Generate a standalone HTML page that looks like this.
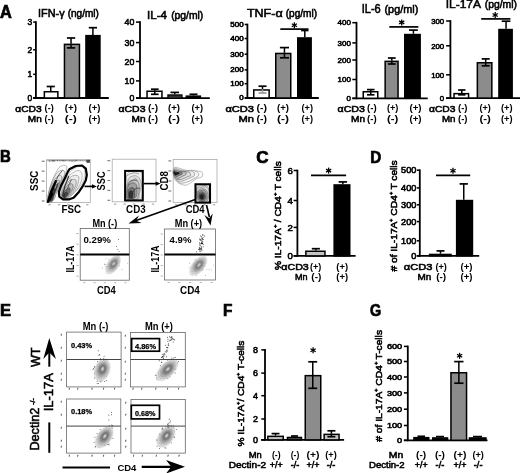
<!DOCTYPE html>
<html><head><meta charset="utf-8"><title>Figure</title>
<style>
html,body{margin:0;padding:0;background:#fff;}
body{width:520px;height:473px;overflow:hidden;}
svg{display:block;will-change:transform;font-family:"Liberation Sans",sans-serif;}
</style></head>
<body>
<svg width="520" height="473" viewBox="0 0 520 473">
<defs><filter id="bl" x="-20%" y="-20%" width="140%" height="140%"><feGaussianBlur stdDeviation="0.45"/></filter></defs>
<rect width="520" height="473" fill="#fff"/>
<text x="0.00" y="17.60" font-size="17.5" font-weight="bold" textLength="11.80" lengthAdjust="spacingAndGlyphs" fill="#000" stroke="#000" stroke-width="0.7">A</text>
<line x1="35.90" y1="21.29" x2="35.90" y2="98.90" stroke="#000" stroke-width="1.8" stroke-linecap="butt"/>
<line x1="33.20" y1="98.00" x2="108.80" y2="98.00" stroke="#000" stroke-width="1.8" stroke-linecap="butt"/>
<line x1="33.20" y1="22.10" x2="35.90" y2="22.10" stroke="#000" stroke-width="1.53" stroke-linecap="butt"/>
<text x="32.20" y="25.15" font-size="8.52" text-anchor="end" textLength="4.70" lengthAdjust="spacingAndGlyphs" fill="#000" stroke="#000" stroke-width="0.55">3</text>
<line x1="33.20" y1="49.80" x2="35.90" y2="49.80" stroke="#000" stroke-width="1.53" stroke-linecap="butt"/>
<text x="32.20" y="52.85" font-size="8.52" text-anchor="end" textLength="4.70" lengthAdjust="spacingAndGlyphs" fill="#000" stroke="#000" stroke-width="0.55">2</text>
<line x1="33.20" y1="74.30" x2="35.90" y2="74.30" stroke="#000" stroke-width="1.53" stroke-linecap="butt"/>
<text x="32.20" y="77.35" font-size="8.52" text-anchor="end" textLength="4.70" lengthAdjust="spacingAndGlyphs" fill="#000" stroke="#000" stroke-width="0.55">1</text>
<line x1="33.20" y1="98.00" x2="35.90" y2="98.00" stroke="#000" stroke-width="1.53" stroke-linecap="butt"/>
<text x="32.20" y="101.05" font-size="8.52" text-anchor="end" textLength="4.70" lengthAdjust="spacingAndGlyphs" fill="#000" stroke="#000" stroke-width="0.55">0</text>
<text x="38.00" y="17.40" font-size="10.4" textLength="26.60" lengthAdjust="spacingAndGlyphs" fill="#000" stroke="#000" stroke-width="0.55">IFN-γ</text>
<text x="67.70" y="17.40" font-size="10.0" textLength="31.20" lengthAdjust="spacingAndGlyphs" fill="#000" stroke="#000" stroke-width="0.55">(ng/ml)</text>
<line x1="50.75" y1="86.50" x2="50.75" y2="91.00" stroke="#000" stroke-width="1.5" stroke-linecap="butt"/>
<line x1="46.70" y1="86.50" x2="54.80" y2="86.50" stroke="#000" stroke-width="1.7" stroke-linecap="butt"/>
<rect x="44.35" y="91.75" width="13.50" height="6.25" fill="#fff" stroke="#000" stroke-width="1.5"/>
<line x1="71.05" y1="38.00" x2="71.05" y2="43.60" stroke="#000" stroke-width="1.5" stroke-linecap="butt"/>
<line x1="66.90" y1="38.00" x2="75.20" y2="38.00" stroke="#000" stroke-width="1.7" stroke-linecap="butt"/>
<rect x="64.45" y="44.35" width="15.00" height="53.65" fill="#8c8c8c" stroke="#000" stroke-width="1.5"/>
<line x1="71.05" y1="43.60" x2="71.05" y2="47.90" stroke="#000" stroke-width="1.5" stroke-linecap="butt"/>
<line x1="66.90" y1="47.90" x2="75.20" y2="47.90" stroke="#000" stroke-width="1.7" stroke-linecap="butt"/>
<line x1="92.90" y1="27.70" x2="92.90" y2="34.90" stroke="#000" stroke-width="1.5" stroke-linecap="butt"/>
<line x1="88.80" y1="27.70" x2="97.00" y2="27.70" stroke="#000" stroke-width="1.7" stroke-linecap="butt"/>
<rect x="85.95" y="35.65" width="14.00" height="62.35" fill="#000" stroke="#000" stroke-width="1.5"/>
<text x="15.30" y="112.30" font-size="9.4" textLength="26.40" lengthAdjust="spacingAndGlyphs" fill="#000" stroke="#000" stroke-width="0.55">αCD3</text>
<text x="27.80" y="121.60" font-size="9.4" textLength="13.90" lengthAdjust="spacingAndGlyphs" fill="#000" stroke="#000" stroke-width="0.55">Mn</text>
<text x="49.20" y="111.30" font-size="8.6" font-weight="bold" text-anchor="middle" textLength="9.20" lengthAdjust="spacingAndGlyphs" fill="#000">(-)</text>
<text x="49.20" y="121.60" font-size="8.6" font-weight="bold" text-anchor="middle" textLength="9.20" lengthAdjust="spacingAndGlyphs" fill="#000">(-)</text>
<text x="70.85" y="111.30" font-size="8.6" font-weight="bold" text-anchor="middle" textLength="12.10" lengthAdjust="spacingAndGlyphs" fill="#000">(+)</text>
<text x="70.85" y="121.60" font-size="8.6" font-weight="bold" text-anchor="middle" textLength="12.10" lengthAdjust="spacingAndGlyphs" fill="#000">(-)</text>
<text x="94.50" y="111.30" font-size="8.6" font-weight="bold" text-anchor="middle" textLength="11.80" lengthAdjust="spacingAndGlyphs" fill="#000">(+)</text>
<text x="94.50" y="121.60" font-size="8.6" font-weight="bold" text-anchor="middle" textLength="11.80" lengthAdjust="spacingAndGlyphs" fill="#000">(+)</text>
<line x1="140.00" y1="21.29" x2="140.00" y2="99.00" stroke="#000" stroke-width="1.8" stroke-linecap="butt"/>
<line x1="136.00" y1="98.10" x2="209.80" y2="98.10" stroke="#000" stroke-width="1.8" stroke-linecap="butt"/>
<line x1="136.00" y1="22.10" x2="140.00" y2="22.10" stroke="#000" stroke-width="1.53" stroke-linecap="butt"/>
<text x="134.40" y="25.25" font-size="8.8" text-anchor="end" textLength="9.80" lengthAdjust="spacingAndGlyphs" fill="#000" stroke="#000" stroke-width="0.55">40</text>
<line x1="136.00" y1="42.60" x2="140.00" y2="42.60" stroke="#000" stroke-width="1.53" stroke-linecap="butt"/>
<text x="134.40" y="45.75" font-size="8.8" text-anchor="end" textLength="9.80" lengthAdjust="spacingAndGlyphs" fill="#000" stroke="#000" stroke-width="0.55">30</text>
<line x1="136.00" y1="61.50" x2="140.00" y2="61.50" stroke="#000" stroke-width="1.53" stroke-linecap="butt"/>
<text x="134.40" y="64.65" font-size="8.8" text-anchor="end" textLength="9.80" lengthAdjust="spacingAndGlyphs" fill="#000" stroke="#000" stroke-width="0.55">20</text>
<line x1="136.00" y1="80.90" x2="140.00" y2="80.90" stroke="#000" stroke-width="1.53" stroke-linecap="butt"/>
<text x="134.40" y="84.05" font-size="8.8" text-anchor="end" textLength="9.80" lengthAdjust="spacingAndGlyphs" fill="#000" stroke="#000" stroke-width="0.55">10</text>
<line x1="136.00" y1="98.10" x2="140.00" y2="98.10" stroke="#000" stroke-width="1.53" stroke-linecap="butt"/>
<text x="134.40" y="101.25" font-size="8.8" text-anchor="end" textLength="4.90" lengthAdjust="spacingAndGlyphs" fill="#000" stroke="#000" stroke-width="0.55">0</text>
<text x="147.00" y="18.90" font-size="10.8" textLength="19.90" lengthAdjust="spacingAndGlyphs" fill="#000" stroke="#000" stroke-width="0.55">IL-4</text>
<text x="171.20" y="18.90" font-size="10.2" textLength="32.10" lengthAdjust="spacingAndGlyphs" fill="#000" stroke="#000" stroke-width="0.55">(pg/ml)</text>
<line x1="154.80" y1="89.20" x2="154.80" y2="90.50" stroke="#000" stroke-width="1.5" stroke-linecap="butt"/>
<line x1="151.00" y1="89.20" x2="158.60" y2="89.20" stroke="#000" stroke-width="1.7" stroke-linecap="butt"/>
<rect x="147.05" y="91.25" width="14.90" height="6.85" fill="#fff" stroke="#000" stroke-width="1.5"/>
<line x1="154.80" y1="90.50" x2="154.80" y2="94.30" stroke="#000" stroke-width="1.5" stroke-linecap="butt"/>
<line x1="151.00" y1="94.30" x2="158.60" y2="94.30" stroke="#000" stroke-width="1.7" stroke-linecap="butt"/>
<line x1="174.75" y1="92.40" x2="174.75" y2="94.30" stroke="#000" stroke-width="1.5" stroke-linecap="butt"/>
<line x1="170.50" y1="92.40" x2="179.00" y2="92.40" stroke="#000" stroke-width="1.7" stroke-linecap="butt"/>
<rect x="168.20" y="95.20" width="13.50" height="2.90" fill="#8c8c8c" stroke="#000" stroke-width="1.8"/>
<rect x="168.50" y="95.50" width="12.90" height="2.00" fill="#333" stroke="none" stroke-width="0"/>
<line x1="193.50" y1="94.30" x2="193.50" y2="95.40" stroke="#000" stroke-width="1.5" stroke-linecap="butt"/>
<line x1="189.50" y1="94.30" x2="197.50" y2="94.30" stroke="#000" stroke-width="1.7" stroke-linecap="butt"/>
<rect x="186.35" y="96.15" width="14.00" height="1.95" fill="#000" stroke="#000" stroke-width="1.5"/>
<text x="118.50" y="112.30" font-size="9.4" textLength="27.00" lengthAdjust="spacingAndGlyphs" fill="#000" stroke="#000" stroke-width="0.55">αCD3</text>
<text x="131.50" y="121.60" font-size="9.4" textLength="14.00" lengthAdjust="spacingAndGlyphs" fill="#000" stroke="#000" stroke-width="0.55">Mn</text>
<text x="153.00" y="111.30" font-size="8.6" font-weight="bold" text-anchor="middle" textLength="10.00" lengthAdjust="spacingAndGlyphs" fill="#000">(-)</text>
<text x="153.00" y="121.60" font-size="8.6" font-weight="bold" text-anchor="middle" textLength="10.00" lengthAdjust="spacingAndGlyphs" fill="#000">(-)</text>
<text x="174.00" y="111.30" font-size="8.6" font-weight="bold" text-anchor="middle" textLength="12.00" lengthAdjust="spacingAndGlyphs" fill="#000">(+)</text>
<text x="174.00" y="121.60" font-size="8.6" font-weight="bold" text-anchor="middle" textLength="12.00" lengthAdjust="spacingAndGlyphs" fill="#000">(-)</text>
<text x="197.20" y="111.30" font-size="8.6" font-weight="bold" text-anchor="middle" textLength="11.60" lengthAdjust="spacingAndGlyphs" fill="#000">(+)</text>
<text x="197.20" y="121.60" font-size="8.6" font-weight="bold" text-anchor="middle" textLength="11.60" lengthAdjust="spacingAndGlyphs" fill="#000">(+)</text>
<line x1="247.40" y1="23.69" x2="247.40" y2="98.90" stroke="#000" stroke-width="1.8" stroke-linecap="butt"/>
<line x1="244.70" y1="98.00" x2="318.80" y2="98.00" stroke="#000" stroke-width="1.8" stroke-linecap="butt"/>
<line x1="244.70" y1="24.50" x2="247.40" y2="24.50" stroke="#000" stroke-width="1.53" stroke-linecap="butt"/>
<text x="243.70" y="26.95" font-size="6.84" text-anchor="end" textLength="13.35" lengthAdjust="spacingAndGlyphs" fill="#000" stroke="#000" stroke-width="0.55">500</text>
<line x1="244.70" y1="38.50" x2="247.40" y2="38.50" stroke="#000" stroke-width="1.53" stroke-linecap="butt"/>
<text x="243.70" y="40.95" font-size="6.84" text-anchor="end" textLength="13.35" lengthAdjust="spacingAndGlyphs" fill="#000" stroke="#000" stroke-width="0.55">400</text>
<line x1="244.70" y1="54.20" x2="247.40" y2="54.20" stroke="#000" stroke-width="1.53" stroke-linecap="butt"/>
<text x="243.70" y="56.65" font-size="6.84" text-anchor="end" textLength="13.35" lengthAdjust="spacingAndGlyphs" fill="#000" stroke="#000" stroke-width="0.55">300</text>
<line x1="244.70" y1="69.90" x2="247.40" y2="69.90" stroke="#000" stroke-width="1.53" stroke-linecap="butt"/>
<text x="243.70" y="72.35" font-size="6.84" text-anchor="end" textLength="13.35" lengthAdjust="spacingAndGlyphs" fill="#000" stroke="#000" stroke-width="0.55">200</text>
<line x1="244.70" y1="83.70" x2="247.40" y2="83.70" stroke="#000" stroke-width="1.53" stroke-linecap="butt"/>
<text x="243.70" y="86.15" font-size="6.84" text-anchor="end" textLength="13.35" lengthAdjust="spacingAndGlyphs" fill="#000" stroke="#000" stroke-width="0.55">100</text>
<line x1="244.70" y1="98.00" x2="247.40" y2="98.00" stroke="#000" stroke-width="1.53" stroke-linecap="butt"/>
<text x="243.70" y="100.45" font-size="6.84" text-anchor="end" textLength="4.45" lengthAdjust="spacingAndGlyphs" fill="#000" stroke="#000" stroke-width="0.55">0</text>
<text x="246.90" y="17.40" font-size="11.6" textLength="35.80" lengthAdjust="spacingAndGlyphs" fill="#000" stroke="#000" stroke-width="0.55">TNF-α</text>
<text x="285.70" y="17.40" font-size="10.2" textLength="31.40" lengthAdjust="spacingAndGlyphs" fill="#000" stroke="#000" stroke-width="0.55">(pg/ml)</text>
<line x1="262.50" y1="86.20" x2="262.50" y2="89.20" stroke="#000" stroke-width="1.5" stroke-linecap="butt"/>
<line x1="258.50" y1="86.20" x2="266.50" y2="86.20" stroke="#000" stroke-width="1.7" stroke-linecap="butt"/>
<rect x="253.75" y="89.95" width="15.40" height="8.05" fill="#fff" stroke="#000" stroke-width="1.5"/>
<line x1="262.50" y1="89.20" x2="262.50" y2="93.00" stroke="#999" stroke-width="1.5" stroke-linecap="butt"/>
<line x1="258.50" y1="93.00" x2="266.50" y2="93.00" stroke="#999" stroke-width="1.7" stroke-linecap="butt"/>
<line x1="284.45" y1="47.60" x2="284.45" y2="52.70" stroke="#000" stroke-width="1.5" stroke-linecap="butt"/>
<line x1="279.90" y1="47.60" x2="289.00" y2="47.60" stroke="#000" stroke-width="1.7" stroke-linecap="butt"/>
<rect x="275.75" y="53.45" width="15.00" height="44.55" fill="#8c8c8c" stroke="#000" stroke-width="1.5"/>
<line x1="284.45" y1="52.70" x2="284.45" y2="57.80" stroke="#000" stroke-width="1.5" stroke-linecap="butt"/>
<line x1="279.90" y1="57.80" x2="289.00" y2="57.80" stroke="#000" stroke-width="1.7" stroke-linecap="butt"/>
<line x1="304.80" y1="30.50" x2="304.80" y2="37.20" stroke="#000" stroke-width="1.5" stroke-linecap="butt"/>
<line x1="301.10" y1="30.50" x2="308.50" y2="30.50" stroke="#000" stroke-width="1.7" stroke-linecap="butt"/>
<rect x="297.75" y="37.95" width="13.40" height="60.05" fill="#000" stroke="#000" stroke-width="1.5"/>
<line x1="280.30" y1="29.10" x2="308.50" y2="29.10" stroke="#000" stroke-width="1.7" stroke-linecap="butt"/>
<line x1="294.40" y1="22.30" x2="294.40" y2="28.30" stroke="#000" stroke-width="1.3" stroke-linecap="butt"/>
<line x1="297.00" y1="23.80" x2="291.80" y2="26.80" stroke="#000" stroke-width="1.3" stroke-linecap="butt"/>
<line x1="297.00" y1="26.80" x2="291.80" y2="23.80" stroke="#000" stroke-width="1.3" stroke-linecap="butt"/>
<text x="225.40" y="112.30" font-size="9.4" textLength="28.60" lengthAdjust="spacingAndGlyphs" fill="#000" stroke="#000" stroke-width="0.55">αCD3</text>
<text x="238.60" y="121.60" font-size="9.4" textLength="15.40" lengthAdjust="spacingAndGlyphs" fill="#000" stroke="#000" stroke-width="0.55">Mn</text>
<text x="261.75" y="111.30" font-size="8.6" font-weight="bold" text-anchor="middle" textLength="10.50" lengthAdjust="spacingAndGlyphs" fill="#000">(-)</text>
<text x="261.75" y="121.60" font-size="8.6" font-weight="bold" text-anchor="middle" textLength="10.50" lengthAdjust="spacingAndGlyphs" fill="#000">(-)</text>
<text x="283.00" y="111.30" font-size="8.6" font-weight="bold" text-anchor="middle" textLength="12.00" lengthAdjust="spacingAndGlyphs" fill="#000">(+)</text>
<text x="283.00" y="121.60" font-size="8.6" font-weight="bold" text-anchor="middle" textLength="12.00" lengthAdjust="spacingAndGlyphs" fill="#000">(-)</text>
<text x="307.25" y="111.30" font-size="8.6" font-weight="bold" text-anchor="middle" textLength="11.50" lengthAdjust="spacingAndGlyphs" fill="#000">(+)</text>
<text x="307.25" y="121.60" font-size="8.6" font-weight="bold" text-anchor="middle" textLength="11.50" lengthAdjust="spacingAndGlyphs" fill="#000">(+)</text>
<line x1="356.50" y1="21.89" x2="356.50" y2="99.20" stroke="#000" stroke-width="1.8" stroke-linecap="butt"/>
<line x1="352.30" y1="98.30" x2="427.70" y2="98.30" stroke="#000" stroke-width="1.8" stroke-linecap="butt"/>
<line x1="352.30" y1="22.70" x2="356.50" y2="22.70" stroke="#000" stroke-width="1.53" stroke-linecap="butt"/>
<text x="350.90" y="25.45" font-size="7.68" text-anchor="end" textLength="13.35" lengthAdjust="spacingAndGlyphs" fill="#000" stroke="#000" stroke-width="0.55">400</text>
<line x1="352.30" y1="42.90" x2="356.50" y2="42.90" stroke="#000" stroke-width="1.53" stroke-linecap="butt"/>
<text x="350.90" y="45.65" font-size="7.68" text-anchor="end" textLength="13.35" lengthAdjust="spacingAndGlyphs" fill="#000" stroke="#000" stroke-width="0.55">300</text>
<line x1="352.30" y1="60.00" x2="356.50" y2="60.00" stroke="#000" stroke-width="1.53" stroke-linecap="butt"/>
<text x="350.90" y="62.75" font-size="7.68" text-anchor="end" textLength="13.35" lengthAdjust="spacingAndGlyphs" fill="#000" stroke="#000" stroke-width="0.55">200</text>
<line x1="352.30" y1="79.50" x2="356.50" y2="79.50" stroke="#000" stroke-width="1.53" stroke-linecap="butt"/>
<text x="350.90" y="82.25" font-size="7.68" text-anchor="end" textLength="13.35" lengthAdjust="spacingAndGlyphs" fill="#000" stroke="#000" stroke-width="0.55">100</text>
<line x1="352.30" y1="98.30" x2="356.50" y2="98.30" stroke="#000" stroke-width="1.53" stroke-linecap="butt"/>
<text x="350.90" y="101.05" font-size="7.68" text-anchor="end" textLength="4.45" lengthAdjust="spacingAndGlyphs" fill="#000" stroke="#000" stroke-width="0.55">0</text>
<text x="361.70" y="12.90" font-size="12.0" textLength="19.10" lengthAdjust="spacingAndGlyphs" fill="#000" stroke="#000" stroke-width="0.55">IL-6</text>
<text x="384.50" y="12.90" font-size="10.6" textLength="33.80" lengthAdjust="spacingAndGlyphs" fill="#000" stroke="#000" stroke-width="0.55">(pg/ml)</text>
<line x1="370.75" y1="89.60" x2="370.75" y2="91.00" stroke="#000" stroke-width="1.5" stroke-linecap="butt"/>
<line x1="367.00" y1="89.60" x2="374.50" y2="89.60" stroke="#000" stroke-width="1.7" stroke-linecap="butt"/>
<rect x="363.25" y="91.75" width="14.50" height="6.55" fill="#fff" stroke="#000" stroke-width="1.5"/>
<line x1="370.75" y1="91.00" x2="370.75" y2="94.80" stroke="#000" stroke-width="1.5" stroke-linecap="butt"/>
<line x1="367.00" y1="94.80" x2="374.50" y2="94.80" stroke="#000" stroke-width="1.7" stroke-linecap="butt"/>
<line x1="391.80" y1="58.00" x2="391.80" y2="60.60" stroke="#000" stroke-width="1.5" stroke-linecap="butt"/>
<line x1="387.90" y1="58.00" x2="395.70" y2="58.00" stroke="#000" stroke-width="1.7" stroke-linecap="butt"/>
<rect x="385.15" y="61.35" width="12.90" height="36.95" fill="#8c8c8c" stroke="#000" stroke-width="1.5"/>
<line x1="391.80" y1="60.60" x2="391.80" y2="64.00" stroke="#000" stroke-width="1.5" stroke-linecap="butt"/>
<line x1="387.90" y1="64.00" x2="395.70" y2="64.00" stroke="#000" stroke-width="1.7" stroke-linecap="butt"/>
<line x1="413.40" y1="30.10" x2="413.40" y2="33.80" stroke="#000" stroke-width="1.5" stroke-linecap="butt"/>
<line x1="409.00" y1="30.10" x2="417.80" y2="30.10" stroke="#000" stroke-width="1.7" stroke-linecap="butt"/>
<rect x="404.75" y="34.55" width="15.40" height="63.75" fill="#000" stroke="#000" stroke-width="1.5"/>
<line x1="389.30" y1="26.90" x2="418.40" y2="26.90" stroke="#000" stroke-width="1.7" stroke-linecap="butt"/>
<line x1="401.70" y1="19.40" x2="401.70" y2="25.40" stroke="#000" stroke-width="1.3" stroke-linecap="butt"/>
<line x1="404.30" y1="20.90" x2="399.10" y2="23.90" stroke="#000" stroke-width="1.3" stroke-linecap="butt"/>
<line x1="404.30" y1="23.90" x2="399.10" y2="20.90" stroke="#000" stroke-width="1.3" stroke-linecap="butt"/>
<text x="337.50" y="112.30" font-size="9.4" textLength="27.50" lengthAdjust="spacingAndGlyphs" fill="#000" stroke="#000" stroke-width="0.55">αCD3</text>
<text x="351.00" y="121.60" font-size="9.4" textLength="14.00" lengthAdjust="spacingAndGlyphs" fill="#000" stroke="#000" stroke-width="0.55">Mn</text>
<text x="371.80" y="111.30" font-size="8.6" font-weight="bold" text-anchor="middle" textLength="9.60" lengthAdjust="spacingAndGlyphs" fill="#000">(-)</text>
<text x="371.80" y="121.60" font-size="8.6" font-weight="bold" text-anchor="middle" textLength="9.60" lengthAdjust="spacingAndGlyphs" fill="#000">(-)</text>
<text x="392.70" y="111.30" font-size="8.6" font-weight="bold" text-anchor="middle" textLength="11.40" lengthAdjust="spacingAndGlyphs" fill="#000">(+)</text>
<text x="392.70" y="121.60" font-size="8.6" font-weight="bold" text-anchor="middle" textLength="11.40" lengthAdjust="spacingAndGlyphs" fill="#000">(-)</text>
<text x="415.55" y="111.30" font-size="8.6" font-weight="bold" text-anchor="middle" textLength="12.10" lengthAdjust="spacingAndGlyphs" fill="#000">(+)</text>
<text x="415.55" y="121.60" font-size="8.6" font-weight="bold" text-anchor="middle" textLength="12.10" lengthAdjust="spacingAndGlyphs" fill="#000">(+)</text>
<line x1="450.40" y1="20.19" x2="450.40" y2="99.00" stroke="#000" stroke-width="1.8" stroke-linecap="butt"/>
<line x1="446.10" y1="98.10" x2="520.00" y2="98.10" stroke="#000" stroke-width="1.8" stroke-linecap="butt"/>
<line x1="446.10" y1="21.00" x2="450.40" y2="21.00" stroke="#000" stroke-width="1.53" stroke-linecap="butt"/>
<text x="444.20" y="23.80" font-size="7.82" text-anchor="end" textLength="13.05" lengthAdjust="spacingAndGlyphs" fill="#000" stroke="#000" stroke-width="0.55">300</text>
<line x1="446.10" y1="45.80" x2="450.40" y2="45.80" stroke="#000" stroke-width="1.53" stroke-linecap="butt"/>
<text x="444.20" y="48.60" font-size="7.82" text-anchor="end" textLength="13.05" lengthAdjust="spacingAndGlyphs" fill="#000" stroke="#000" stroke-width="0.55">200</text>
<line x1="446.10" y1="74.80" x2="450.40" y2="74.80" stroke="#000" stroke-width="1.53" stroke-linecap="butt"/>
<text x="444.20" y="77.60" font-size="7.82" text-anchor="end" textLength="13.05" lengthAdjust="spacingAndGlyphs" fill="#000" stroke="#000" stroke-width="0.55">100</text>
<line x1="446.10" y1="98.10" x2="450.40" y2="98.10" stroke="#000" stroke-width="1.53" stroke-linecap="butt"/>
<text x="444.20" y="100.90" font-size="7.82" text-anchor="end" textLength="4.35" lengthAdjust="spacingAndGlyphs" fill="#000" stroke="#000" stroke-width="0.55">0</text>
<text x="445.70" y="8.40" font-size="11.8" textLength="35.30" lengthAdjust="spacingAndGlyphs" fill="#000" stroke="#000" stroke-width="0.55">IL-17A</text>
<text x="484.70" y="8.40" font-size="10.4" textLength="32.30" lengthAdjust="spacingAndGlyphs" fill="#000" stroke="#000" stroke-width="0.55">(pg/ml)</text>
<line x1="461.80" y1="90.00" x2="461.80" y2="92.90" stroke="#000" stroke-width="1.5" stroke-linecap="butt"/>
<line x1="458.10" y1="90.00" x2="465.50" y2="90.00" stroke="#000" stroke-width="1.7" stroke-linecap="butt"/>
<rect x="454.05" y="93.65" width="14.50" height="4.45" fill="#fff" stroke="#000" stroke-width="1.5"/>
<line x1="461.80" y1="92.90" x2="461.80" y2="94.80" stroke="#000" stroke-width="1.5" stroke-linecap="butt"/>
<line x1="458.10" y1="94.80" x2="465.50" y2="94.80" stroke="#000" stroke-width="1.7" stroke-linecap="butt"/>
<line x1="485.70" y1="58.90" x2="485.70" y2="62.00" stroke="#000" stroke-width="1.5" stroke-linecap="butt"/>
<line x1="481.70" y1="58.90" x2="489.70" y2="58.90" stroke="#000" stroke-width="1.7" stroke-linecap="butt"/>
<rect x="477.35" y="62.75" width="14.50" height="35.35" fill="#8c8c8c" stroke="#000" stroke-width="1.5"/>
<line x1="485.70" y1="62.00" x2="485.70" y2="65.80" stroke="#000" stroke-width="1.5" stroke-linecap="butt"/>
<line x1="481.70" y1="65.80" x2="489.70" y2="65.80" stroke="#000" stroke-width="1.7" stroke-linecap="butt"/>
<line x1="506.05" y1="21.20" x2="506.05" y2="28.80" stroke="#000" stroke-width="1.5" stroke-linecap="butt"/>
<line x1="501.70" y1="21.20" x2="510.40" y2="21.20" stroke="#000" stroke-width="1.7" stroke-linecap="butt"/>
<rect x="498.95" y="29.55" width="13.20" height="68.55" fill="#000" stroke="#000" stroke-width="1.5"/>
<line x1="481.20" y1="18.90" x2="510.40" y2="18.90" stroke="#000" stroke-width="1.7" stroke-linecap="butt"/>
<line x1="495.20" y1="12.00" x2="495.20" y2="18.00" stroke="#000" stroke-width="1.3" stroke-linecap="butt"/>
<line x1="497.80" y1="13.50" x2="492.60" y2="16.50" stroke="#000" stroke-width="1.3" stroke-linecap="butt"/>
<line x1="497.80" y1="16.50" x2="492.60" y2="13.50" stroke="#000" stroke-width="1.3" stroke-linecap="butt"/>
<text x="429.00" y="112.30" font-size="9.4" textLength="26.50" lengthAdjust="spacingAndGlyphs" fill="#000" stroke="#000" stroke-width="0.55">αCD3</text>
<text x="442.00" y="121.60" font-size="9.4" textLength="13.50" lengthAdjust="spacingAndGlyphs" fill="#000" stroke="#000" stroke-width="0.55">Mn</text>
<text x="462.75" y="111.30" font-size="8.6" font-weight="bold" text-anchor="middle" textLength="9.50" lengthAdjust="spacingAndGlyphs" fill="#000">(-)</text>
<text x="462.75" y="121.60" font-size="8.6" font-weight="bold" text-anchor="middle" textLength="9.50" lengthAdjust="spacingAndGlyphs" fill="#000">(-)</text>
<text x="485.10" y="111.30" font-size="8.6" font-weight="bold" text-anchor="middle" textLength="11.40" lengthAdjust="spacingAndGlyphs" fill="#000">(+)</text>
<text x="485.10" y="121.60" font-size="8.6" font-weight="bold" text-anchor="middle" textLength="11.40" lengthAdjust="spacingAndGlyphs" fill="#000">(-)</text>
<text x="506.80" y="111.30" font-size="8.6" font-weight="bold" text-anchor="middle" textLength="11.60" lengthAdjust="spacingAndGlyphs" fill="#000">(+)</text>
<text x="506.80" y="121.60" font-size="8.6" font-weight="bold" text-anchor="middle" textLength="11.60" lengthAdjust="spacingAndGlyphs" fill="#000">(+)</text>
<text x="0.00" y="162.40" font-size="15.8" font-weight="bold" textLength="10.80" lengthAdjust="spacingAndGlyphs" fill="#000" stroke="#000" stroke-width="0.7">B</text>
<rect x="46.60" y="159.70" width="43.70" height="42.80" fill="#fff" stroke="#aaa" stroke-width="0.8"/>
<line x1="41.80" y1="201.00" x2="44.60" y2="201.00" stroke="#777" stroke-width="1.1" stroke-linecap="butt"/>
<line x1="41.80" y1="191.05" x2="44.60" y2="191.05" stroke="#777" stroke-width="1.1" stroke-linecap="butt"/>
<line x1="41.80" y1="181.10" x2="44.60" y2="181.10" stroke="#777" stroke-width="1.1" stroke-linecap="butt"/>
<line x1="41.80" y1="171.15" x2="44.60" y2="171.15" stroke="#777" stroke-width="1.1" stroke-linecap="butt"/>
<line x1="41.80" y1="161.20" x2="44.60" y2="161.20" stroke="#777" stroke-width="1.1" stroke-linecap="butt"/>
<line x1="48.40" y1="204.80" x2="50.80" y2="204.80" stroke="#999" stroke-width="1.0" stroke-linecap="butt"/>
<line x1="57.82" y1="204.80" x2="60.23" y2="204.80" stroke="#999" stroke-width="1.0" stroke-linecap="butt"/>
<line x1="67.25" y1="204.80" x2="69.65" y2="204.80" stroke="#999" stroke-width="1.0" stroke-linecap="butt"/>
<line x1="76.67" y1="204.80" x2="79.08" y2="204.80" stroke="#999" stroke-width="1.0" stroke-linecap="butt"/>
<line x1="86.10" y1="204.80" x2="88.50" y2="204.80" stroke="#999" stroke-width="1.0" stroke-linecap="butt"/>
<line x1="47.20" y1="160.50" x2="89.80" y2="160.50" stroke="#aaa" stroke-width="1.3" stroke-linecap="butt"/>
<rect x="61.4" y="160.0" width="1.4" height="0.8" fill="#555"/>
<rect x="82.1" y="160.0" width="1.3" height="0.8" fill="#999"/>
<rect x="56.9" y="160.0" width="1.1" height="0.8" fill="#555"/>
<rect x="51.8" y="160.3" width="1.6" height="0.8" fill="#555"/>
<rect x="87.3" y="160.5" width="1.3" height="0.8" fill="#555"/>
<rect x="71.9" y="160.3" width="1.8" height="0.8" fill="#555"/>
<rect x="71.1" y="160.0" width="1.1" height="0.8" fill="#999"/>
<rect x="52.9" y="160.2" width="1.6" height="0.8" fill="#555"/>
<rect x="52.3" y="160.4" width="0.8" height="0.8" fill="#555"/>
<rect x="70.7" y="160.0" width="0.7" height="0.8" fill="#555"/>
<rect x="68.6" y="160.4" width="1.5" height="0.8" fill="#777"/>
<rect x="72.3" y="160.3" width="1.0" height="0.8" fill="#555"/>
<rect x="77.0" y="160.1" width="1.3" height="0.8" fill="#999"/>
<rect x="68.5" y="160.2" width="1.1" height="0.8" fill="#999"/>
<rect x="88.7" y="160.0" width="1.1" height="0.8" fill="#777"/>
<rect x="54.3" y="160.3" width="0.6" height="0.8" fill="#999"/>
<rect x="51.2" y="160.4" width="1.5" height="0.8" fill="#777"/>
<rect x="62.1" y="160.2" width="1.2" height="0.8" fill="#777"/>
<rect x="50.9" y="160.0" width="0.9" height="0.8" fill="#999"/>
<rect x="75.6" y="160.0" width="1.4" height="0.8" fill="#999"/>
<rect x="72.0" y="160.5" width="1.1" height="0.8" fill="#999"/>
<rect x="64.0" y="160.5" width="0.6" height="0.8" fill="#777"/>
<rect x="62.8" y="160.4" width="1.2" height="0.8" fill="#555"/>
<rect x="79.9" y="160.0" width="0.9" height="0.8" fill="#777"/>
<rect x="86.0" y="160.3" width="0.8" height="0.8" fill="#777"/>
<rect x="70.8" y="160.7" width="1.6" height="0.8" fill="#999"/>
<rect x="59.6" y="160.3" width="1.0" height="0.8" fill="#777"/>
<rect x="87.7" y="160.0" width="0.8" height="0.8" fill="#555"/>
<rect x="75.3" y="159.9" width="1.6" height="0.8" fill="#555"/>
<rect x="58.9" y="159.9" width="1.1" height="0.8" fill="#777"/>
<rect x="73.3" y="160.2" width="0.8" height="0.8" fill="#999"/>
<rect x="87.4" y="160.5" width="1.5" height="0.8" fill="#777"/>
<rect x="85.3" y="160.6" width="1.6" height="0.8" fill="#999"/>
<rect x="64.3" y="160.3" width="0.7" height="0.8" fill="#999"/>
<rect x="64.6" y="160.1" width="1.8" height="0.8" fill="#777"/>
<rect x="54.7" y="160.2" width="0.7" height="0.8" fill="#555"/>
<rect x="71.5" y="160.4" width="1.7" height="0.8" fill="#999"/>
<rect x="49.1" y="160.7" width="1.3" height="0.8" fill="#555"/>
<rect x="74.3" y="160.8" width="1.3" height="0.8" fill="#777"/>
<rect x="53.1" y="160.7" width="1.8" height="0.8" fill="#777"/>
<rect x="86.5" y="159.8" width="3.4" height="3.0" fill="#444"/>
<path d="M48.23,202.35 C47.69,201.40 47.50,199.32 47.96,196.26 C48.42,193.19 49.80,187.61 51.00,183.95 C52.19,180.29 53.80,177.03 55.15,174.29 C56.50,171.55 57.73,169.00 59.09,167.53 C60.46,166.05 62.09,165.69 63.34,165.43 C64.58,165.18 66.04,165.20 66.56,166.00 C67.08,166.80 66.83,168.48 66.45,170.22 C66.06,171.96 65.15,174.14 64.23,176.45 C63.30,178.75 62.19,181.43 60.90,184.03 C59.62,186.63 57.60,189.57 56.53,192.04 C55.45,194.52 55.32,197.23 54.44,198.88 C53.55,200.53 52.25,201.34 51.22,201.92 C50.18,202.50 48.78,203.29 48.23,202.35 Z" fill="#fbfbfb" stroke="#888" stroke-width="0.55"/>
<path d="M48.29,201.55 C47.77,200.75 47.50,199.64 47.87,197.06 C48.24,194.48 49.52,189.31 50.53,186.08 C51.55,182.85 52.73,180.00 53.96,177.68 C55.19,175.35 56.66,173.34 57.89,172.14 C59.13,170.93 60.35,170.64 61.37,170.45 C62.40,170.26 63.52,170.30 64.04,170.99 C64.57,171.68 64.85,173.20 64.52,174.58 C64.18,175.96 62.94,177.23 62.05,179.29 C61.15,181.34 60.08,184.62 59.12,186.92 C58.16,189.23 57.21,191.05 56.30,193.12 C55.38,195.20 54.50,197.90 53.63,199.36 C52.75,200.81 51.91,201.50 51.02,201.87 C50.13,202.23 48.82,202.35 48.29,201.55 Z" fill="#f2f2f2" stroke="#777" stroke-width="0.55"/>
<path d="M49.07,201.83 C48.63,201.22 47.97,199.92 48.15,197.68 C48.34,195.45 49.28,191.16 50.19,188.43 C51.10,185.71 52.58,183.24 53.62,181.36 C54.65,179.48 55.46,178.12 56.41,177.14 C57.36,176.15 58.47,175.62 59.31,175.43 C60.15,175.23 61.05,175.42 61.45,175.98 C61.85,176.53 61.89,177.61 61.69,178.74 C61.49,179.87 60.98,181.13 60.26,182.78 C59.54,184.43 58.31,186.68 57.36,188.64 C56.40,190.60 55.24,192.72 54.52,194.53 C53.79,196.33 53.65,198.35 53.03,199.49 C52.41,200.62 51.47,200.95 50.81,201.34 C50.15,201.73 49.51,202.44 49.07,201.83 Z" fill="#e6e6e6" stroke="#666" stroke-width="0.55"/>
<path d="M48.90,201.65 C48.55,201.15 48.26,200.02 48.53,198.20 C48.80,196.39 49.81,192.91 50.49,190.77 C51.18,188.64 51.82,186.92 52.61,185.39 C53.41,183.87 54.51,182.49 55.26,181.63 C56.01,180.77 56.42,180.42 57.11,180.23 C57.81,180.04 59.04,180.03 59.43,180.49 C59.81,180.95 59.62,182.01 59.44,183.00 C59.26,183.99 58.92,185.06 58.34,186.43 C57.76,187.80 56.73,189.71 55.98,191.23 C55.22,192.75 54.50,194.09 53.80,195.53 C53.10,196.96 52.30,198.90 51.77,199.84 C51.24,200.79 51.10,200.90 50.62,201.20 C50.14,201.50 49.24,202.15 48.90,201.65 Z" fill="#d0d0d0" stroke="#555" stroke-width="0.55"/>
<path d="M48.98,201.18 C48.71,200.74 48.31,199.96 48.50,198.59 C48.68,197.22 49.52,194.68 50.10,192.97 C50.68,191.25 51.36,189.55 51.97,188.29 C52.59,187.03 53.19,186.07 53.77,185.43 C54.35,184.78 54.87,184.51 55.45,184.44 C56.04,184.37 56.97,184.63 57.29,185.00 C57.60,185.36 57.53,185.88 57.35,186.62 C57.16,187.35 56.65,188.33 56.18,189.39 C55.71,190.44 55.12,191.79 54.53,192.95 C53.94,194.11 53.11,195.24 52.62,196.37 C52.13,197.49 51.99,198.88 51.58,199.69 C51.17,200.51 50.57,201.00 50.13,201.25 C49.70,201.50 49.25,201.63 48.98,201.18 Z" fill="#9a9a9a" stroke="#333" stroke-width="0.55"/>
<path d="M49.01,200.86 C48.79,200.54 48.51,200.16 48.64,199.15 C48.77,198.14 49.32,196.09 49.77,194.81 C50.21,193.53 50.82,192.37 51.31,191.47 C51.80,190.58 52.29,189.93 52.71,189.44 C53.12,188.96 53.41,188.66 53.80,188.56 C54.19,188.46 54.85,188.55 55.05,188.83 C55.26,189.12 55.11,189.73 55.01,190.27 C54.92,190.81 54.78,191.25 54.47,192.07 C54.16,192.89 53.60,194.27 53.14,195.17 C52.69,196.06 52.15,196.63 51.76,197.45 C51.36,198.26 51.08,199.46 50.78,200.06 C50.47,200.67 50.23,200.95 49.93,201.08 C49.64,201.21 49.22,201.19 49.01,200.86 Z" fill="#444" stroke="#111" stroke-width="0.55"/>
<path d="M49.19,200.84 C49.02,200.67 48.79,200.39 48.89,199.72 C48.98,199.06 49.47,197.71 49.74,196.87 C50.01,196.04 50.20,195.29 50.49,194.70 C50.79,194.12 51.22,193.68 51.52,193.37 C51.82,193.05 52.04,192.89 52.27,192.83 C52.51,192.76 52.79,192.80 52.94,192.98 C53.09,193.15 53.24,193.50 53.19,193.87 C53.13,194.24 52.85,194.65 52.60,195.19 C52.36,195.72 51.98,196.51 51.72,197.08 C51.46,197.65 51.29,198.11 51.05,198.61 C50.81,199.11 50.48,199.71 50.28,200.06 C50.08,200.41 50.05,200.60 49.87,200.73 C49.68,200.86 49.35,201.01 49.19,200.84 Z" fill="#000" stroke="#000" stroke-width="0.5"/>
<path d="M62.05,198.54 C61.27,197.07 59.96,193.13 60.27,190.50 C60.58,187.88 62.50,185.57 63.90,182.78 C65.31,179.99 67.00,176.13 68.70,173.77 C70.41,171.41 72.23,169.91 74.13,168.63 C76.03,167.35 78.47,166.13 80.10,166.09 C81.73,166.05 83.12,166.79 83.92,168.37 C84.71,169.96 85.18,173.06 84.87,175.59 C84.55,178.12 83.44,181.03 82.04,183.55 C80.63,186.07 78.45,188.58 76.43,190.72 C74.42,192.87 71.86,195.01 69.94,196.43 C68.03,197.86 66.27,198.93 64.96,199.28 C63.64,199.63 62.83,200.00 62.05,198.54 Z" fill="#fcfcfc" stroke="#999" stroke-width="0.55"/>
<path d="M61.73,198.26 C61.08,197.02 61.01,194.27 61.27,191.90 C61.54,189.53 62.23,186.55 63.30,184.04 C64.37,181.53 66.14,178.68 67.69,176.85 C69.24,175.01 70.90,174.07 72.61,173.00 C74.32,171.94 76.44,170.48 77.94,170.44 C79.44,170.41 80.94,171.45 81.61,172.80 C82.28,174.14 82.34,176.35 81.96,178.50 C81.58,180.65 80.55,183.38 79.32,185.69 C78.09,188.00 76.14,190.51 74.60,192.34 C73.06,194.16 71.65,195.48 70.07,196.65 C68.49,197.82 66.51,199.10 65.12,199.37 C63.73,199.64 62.37,199.51 61.73,198.26 Z" fill="#f6f6f6" stroke="#888" stroke-width="0.55"/>
<path d="M62.17,197.75 C61.60,196.76 61.44,194.86 61.69,193.05 C61.93,191.23 62.74,188.89 63.64,186.85 C64.55,184.80 65.80,182.50 67.11,180.77 C68.43,179.04 70.13,177.34 71.55,176.45 C72.96,175.55 74.40,175.40 75.58,175.40 C76.75,175.41 78.09,175.53 78.59,176.47 C79.10,177.40 78.90,179.25 78.59,181.01 C78.29,182.76 77.65,185.08 76.77,186.99 C75.90,188.90 74.64,190.84 73.35,192.48 C72.06,194.12 70.41,195.75 69.04,196.84 C67.66,197.92 66.26,198.83 65.12,198.98 C63.97,199.13 62.74,198.73 62.17,197.75 Z" fill="#ececec" stroke="#777" stroke-width="0.55"/>
<path d="M62.55,197.59 C62.12,196.81 62.08,195.12 62.25,193.58 C62.42,192.05 62.85,189.99 63.58,188.39 C64.31,186.78 65.57,185.33 66.62,183.96 C67.67,182.59 68.74,180.92 69.89,180.17 C71.03,179.43 72.50,179.45 73.50,179.47 C74.50,179.48 75.45,179.51 75.88,180.26 C76.32,181.00 76.39,182.47 76.12,183.93 C75.85,185.39 75.10,187.37 74.26,189.01 C73.41,190.65 72.19,192.45 71.06,193.78 C69.93,195.12 68.53,196.27 67.50,197.02 C66.46,197.76 65.65,198.18 64.83,198.27 C64.00,198.37 62.98,198.37 62.55,197.59 Z" fill="#dddddd" stroke="#666" stroke-width="0.55"/>
<path d="M62.75,197.64 C62.47,197.05 62.42,195.66 62.55,194.47 C62.68,193.29 62.99,191.80 63.53,190.55 C64.08,189.30 65.03,187.95 65.81,186.97 C66.58,186.00 67.35,185.25 68.18,184.70 C69.01,184.15 70.06,183.76 70.79,183.70 C71.52,183.64 72.14,183.76 72.55,184.33 C72.95,184.90 73.40,186.00 73.23,187.14 C73.06,188.28 72.16,190.00 71.53,191.16 C70.90,192.32 70.18,193.18 69.44,194.12 C68.70,195.06 67.99,196.17 67.12,196.82 C66.24,197.47 64.92,197.88 64.20,198.02 C63.47,198.16 63.02,198.23 62.75,197.64 Z" fill="#bdbdbd" stroke="#555" stroke-width="0.55"/>
<path d="M63.29,197.39 C63.06,196.97 62.84,195.93 62.90,195.14 C62.97,194.35 63.26,193.46 63.68,192.63 C64.11,191.81 64.87,190.87 65.45,190.19 C66.02,189.50 66.56,188.92 67.14,188.54 C67.73,188.16 68.46,187.96 68.93,187.92 C69.40,187.89 69.77,187.95 69.99,188.35 C70.21,188.75 70.39,189.57 70.24,190.33 C70.09,191.10 69.50,192.14 69.11,192.93 C68.71,193.72 68.41,194.39 67.88,195.07 C67.36,195.74 66.58,196.54 65.98,196.96 C65.38,197.39 64.75,197.55 64.31,197.62 C63.86,197.69 63.53,197.80 63.29,197.39 Z" fill="#777" stroke="#333" stroke-width="0.55"/>
<path d="M63.69,197.11 C63.57,196.89 63.49,196.43 63.51,196.02 C63.53,195.62 63.64,195.16 63.83,194.69 C64.02,194.23 64.37,193.62 64.65,193.23 C64.93,192.85 65.21,192.56 65.51,192.37 C65.82,192.19 66.20,192.12 66.48,192.15 C66.76,192.17 67.05,192.29 67.20,192.53 C67.35,192.77 67.45,193.19 67.38,193.57 C67.30,193.96 66.99,194.42 66.75,194.83 C66.51,195.24 66.23,195.69 65.95,196.06 C65.67,196.43 65.36,196.84 65.06,197.06 C64.77,197.27 64.43,197.34 64.20,197.35 C63.97,197.36 63.80,197.34 63.69,197.11 Z" fill="#333" stroke="#111" stroke-width="0.5"/>
<path d="M48.0,201.8 C49.5,196 52.5,188 55.8,181.2" fill="none" stroke="#000" stroke-width="2.4" stroke-linecap="round"/>
<path d="M51.8,201.2 C53.5,195 55.5,189 58.2,183.0" fill="none" stroke="#333" stroke-width="1.1" stroke-linecap="round"/>
<path d="M56.5,179.5 C58,176 60,173 62.5,170.5" fill="none" stroke="#444" stroke-width="0.9"/>
<path d="M62.6,196.2 C63.5,190 65.5,183 68.8,176.0" fill="none" stroke="#333" stroke-width="1.1"/>
<path d="M65.3,197.2 C66.5,191 68.5,185 71.5,179.5" fill="none" stroke="#555" stroke-width="0.9"/>
<path d="M69.4,169.2 L75.7,166 L82.1,165.5 L85.8,168.7 L86.8,175 L85.8,180.3 L83.1,185.6 L78.9,191.9 L73.6,197.8 L69.4,199.3 L63,199.3 L59.3,196.7 L58.8,191.9 L60.9,186.1 L64.6,178.7 L67.8,171.9 Z" fill="none" stroke="#000" stroke-width="2.2" stroke-linejoin="round"/>
<line x1="84.50" y1="186.40" x2="93.00" y2="186.40" stroke="#000" stroke-width="1.6" stroke-linecap="butt"/>
<path d="M96.80,186.40 L92.00,188.50 L92.00,184.30 Z" fill="#000"/>
<text transform="translate(38.30,190.90) rotate(-90)" x="0" y="0" font-size="11.6" font-weight="bold" textLength="20.30" lengthAdjust="spacingAndGlyphs" fill="#000">SSC</text>
<text x="61.50" y="213.20" font-size="11.0" font-weight="bold" textLength="19.50" lengthAdjust="spacingAndGlyphs" fill="#000">FSC</text>
<rect x="112.20" y="159.20" width="43.80" height="42.60" fill="#fff" stroke="#aaa" stroke-width="0.8"/>
<line x1="107.40" y1="200.30" x2="110.20" y2="200.30" stroke="#777" stroke-width="1.1" stroke-linecap="butt"/>
<line x1="107.40" y1="190.40" x2="110.20" y2="190.40" stroke="#777" stroke-width="1.1" stroke-linecap="butt"/>
<line x1="107.40" y1="180.50" x2="110.20" y2="180.50" stroke="#777" stroke-width="1.1" stroke-linecap="butt"/>
<line x1="107.40" y1="170.60" x2="110.20" y2="170.60" stroke="#777" stroke-width="1.1" stroke-linecap="butt"/>
<line x1="107.40" y1="160.70" x2="110.20" y2="160.70" stroke="#777" stroke-width="1.1" stroke-linecap="butt"/>
<line x1="114.00" y1="204.10" x2="116.40" y2="204.10" stroke="#999" stroke-width="1.0" stroke-linecap="butt"/>
<line x1="123.45" y1="204.10" x2="125.85" y2="204.10" stroke="#999" stroke-width="1.0" stroke-linecap="butt"/>
<line x1="132.90" y1="204.10" x2="135.30" y2="204.10" stroke="#999" stroke-width="1.0" stroke-linecap="butt"/>
<line x1="142.35" y1="204.10" x2="144.75" y2="204.10" stroke="#999" stroke-width="1.0" stroke-linecap="butt"/>
<line x1="151.80" y1="204.10" x2="154.20" y2="204.10" stroke="#999" stroke-width="1.0" stroke-linecap="butt"/>
<path d="M125.37,200.11 C124.13,198.52 124.83,193.77 124.99,190.25 C125.14,186.72 125.91,181.70 126.30,178.96 C126.69,176.22 126.31,175.24 127.33,173.81 C128.35,172.38 130.45,170.81 132.42,170.36 C134.40,169.92 137.49,170.45 139.19,171.13 C140.89,171.81 141.98,172.44 142.61,174.44 C143.23,176.45 142.98,179.75 142.93,183.16 C142.89,186.57 142.97,191.95 142.32,194.88 C141.68,197.82 140.71,199.97 139.06,200.78 C137.40,201.59 134.69,199.87 132.41,199.75 C130.13,199.64 126.61,201.69 125.37,200.11 Z" fill="#f0f0f0" stroke="#888" stroke-width="0.55"/>
<path d="M127.16,199.70 C126.11,198.10 125.62,193.01 125.65,190.17 C125.69,187.33 126.79,184.76 127.38,182.67 C127.97,180.57 128.25,178.71 129.18,177.60 C130.11,176.49 131.73,176.29 132.95,176.01 C134.17,175.73 135.37,175.44 136.51,175.93 C137.65,176.43 138.99,177.42 139.80,178.98 C140.61,180.53 141.42,182.78 141.35,185.27 C141.27,187.76 139.82,191.53 139.35,193.91 C138.87,196.29 139.73,198.58 138.50,199.56 C137.26,200.54 133.82,199.77 131.94,199.79 C130.05,199.81 128.21,201.31 127.16,199.70 Z" fill="#dedede" stroke="#777" stroke-width="0.55"/>
<path d="M127.29,198.85 C126.55,197.77 126.54,194.50 126.56,192.38 C126.58,190.25 126.96,187.93 127.42,186.10 C127.87,184.27 128.41,182.38 129.28,181.38 C130.14,180.38 131.55,180.53 132.62,180.12 C133.70,179.71 134.72,178.52 135.72,178.91 C136.72,179.30 138.03,180.90 138.61,182.46 C139.20,184.02 139.25,186.27 139.23,188.27 C139.21,190.28 138.94,192.65 138.51,194.49 C138.08,196.33 137.91,198.57 136.66,199.30 C135.41,200.03 132.57,198.95 131.01,198.87 C129.45,198.80 128.03,199.94 127.29,198.85 Z" fill="#c6c6c6" stroke="#555" stroke-width="0.55"/>
<path d="M128.36,199.17 C127.67,198.40 127.13,195.64 127.04,193.74 C126.95,191.83 127.49,189.20 127.81,187.72 C128.13,186.24 128.26,185.66 128.96,184.86 C129.67,184.05 131.14,183.22 132.03,182.91 C132.92,182.60 133.57,182.65 134.30,183.02 C135.03,183.38 135.95,183.79 136.41,185.09 C136.86,186.39 137.05,189.01 137.03,190.84 C137.00,192.67 136.68,194.85 136.25,196.06 C135.82,197.28 135.29,197.75 134.44,198.14 C133.60,198.52 132.18,198.22 131.16,198.39 C130.15,198.56 129.05,199.95 128.36,199.17 Z" fill="#a0a0a0" stroke="#444" stroke-width="0.55"/>
<path d="M128.30,198.00 C127.95,197.33 128.43,195.32 128.40,194.18 C128.38,193.05 128.02,192.10 128.16,191.20 C128.31,190.29 128.76,189.37 129.30,188.76 C129.84,188.15 130.83,187.71 131.42,187.53 C132.01,187.36 132.35,187.49 132.85,187.73 C133.34,187.97 134.08,188.20 134.37,188.98 C134.66,189.77 134.53,191.27 134.59,192.42 C134.64,193.58 134.94,194.94 134.70,195.93 C134.47,196.91 133.88,197.96 133.18,198.34 C132.48,198.72 131.31,198.25 130.49,198.20 C129.68,198.14 128.65,198.67 128.30,198.00 Z" fill="#707070" stroke="#333" stroke-width="0.55"/>
<path d="M129.37,197.67 C129.15,197.24 129.04,195.93 128.99,195.20 C128.94,194.47 129.00,193.87 129.08,193.30 C129.15,192.73 129.14,192.16 129.42,191.78 C129.69,191.41 130.33,191.13 130.73,191.05 C131.13,190.97 131.50,191.15 131.83,191.31 C132.15,191.46 132.51,191.48 132.69,191.97 C132.87,192.47 132.93,193.58 132.88,194.27 C132.83,194.95 132.52,195.49 132.39,196.11 C132.25,196.72 132.42,197.66 132.07,197.95 C131.73,198.23 130.76,197.86 130.31,197.81 C129.86,197.77 129.59,198.11 129.37,197.67 Z" fill="#333" stroke="#111" stroke-width="0.5"/>
<path d="M128,185 C130,181 134,179 137,181" fill="none" stroke="#444" stroke-width="0.7"/>
<path d="M133,192 C135,188 138,187 140,189" fill="none" stroke="#333" stroke-width="0.8"/>
<path d="M127,176 C130,173 135,172 139,174" fill="none" stroke="#666" stroke-width="0.6"/>
<rect x="125.10" y="170.90" width="17.70" height="29.50" fill="none" stroke="#000" stroke-width="2.0"/>
<line x1="143.80" y1="183.60" x2="156.50" y2="183.60" stroke="#000" stroke-width="1.6" stroke-linecap="butt"/>
<path d="M160.50,183.60 L155.70,185.70 L155.70,181.50 Z" fill="#000"/>
<text transform="translate(104.60,190.40) rotate(-90)" x="0" y="0" font-size="11.6" font-weight="bold" textLength="19.00" lengthAdjust="spacingAndGlyphs" fill="#000">SSC</text>
<text x="126.10" y="213.20" font-size="11.0" font-weight="bold" textLength="19.50" lengthAdjust="spacingAndGlyphs" fill="#000">CD3</text>
<rect x="173.20" y="159.40" width="43.80" height="43.10" fill="#fff" stroke="#aaa" stroke-width="0.8"/>
<line x1="168.40" y1="201.00" x2="171.20" y2="201.00" stroke="#777" stroke-width="1.1" stroke-linecap="butt"/>
<line x1="168.40" y1="190.97" x2="171.20" y2="190.97" stroke="#777" stroke-width="1.1" stroke-linecap="butt"/>
<line x1="168.40" y1="180.95" x2="171.20" y2="180.95" stroke="#777" stroke-width="1.1" stroke-linecap="butt"/>
<line x1="168.40" y1="170.93" x2="171.20" y2="170.93" stroke="#777" stroke-width="1.1" stroke-linecap="butt"/>
<line x1="168.40" y1="160.90" x2="171.20" y2="160.90" stroke="#777" stroke-width="1.1" stroke-linecap="butt"/>
<line x1="175.00" y1="204.80" x2="177.40" y2="204.80" stroke="#999" stroke-width="1.0" stroke-linecap="butt"/>
<line x1="184.45" y1="204.80" x2="186.85" y2="204.80" stroke="#999" stroke-width="1.0" stroke-linecap="butt"/>
<line x1="193.90" y1="204.80" x2="196.30" y2="204.80" stroke="#999" stroke-width="1.0" stroke-linecap="butt"/>
<line x1="203.35" y1="204.80" x2="205.75" y2="204.80" stroke="#999" stroke-width="1.0" stroke-linecap="butt"/>
<line x1="212.80" y1="204.80" x2="215.20" y2="204.80" stroke="#999" stroke-width="1.0" stroke-linecap="butt"/>
<path d="M173.63,167.94 C174.65,166.40 178.16,168.03 180.45,168.52 C182.75,169.00 184.64,170.46 187.39,170.86 C190.15,171.26 194.51,170.65 196.99,170.92 C199.46,171.20 201.48,171.50 202.27,172.51 C203.07,173.52 202.62,176.00 201.75,176.99 C200.88,177.98 198.88,177.50 197.04,178.45 C195.20,179.40 192.48,181.59 190.70,182.70 C188.92,183.81 187.97,184.87 186.36,185.13 C184.75,185.39 182.59,184.83 181.02,184.27 C179.45,183.71 178.05,182.86 176.93,181.78 C175.82,180.70 174.88,180.10 174.32,177.80 C173.77,175.49 172.61,169.49 173.63,167.94 Z" fill="#fcfcfc" stroke="#888" stroke-width="0.55"/>
<path d="M174.46,168.60 C175.36,167.54 177.87,169.36 179.80,169.74 C181.74,170.12 183.81,170.77 186.05,170.86 C188.29,170.96 191.15,169.92 193.23,170.33 C195.31,170.74 197.74,172.31 198.52,173.33 C199.29,174.34 198.52,175.61 197.88,176.43 C197.24,177.25 196.15,177.42 194.70,178.22 C193.25,179.02 190.91,180.43 189.17,181.22 C187.42,182.00 185.81,182.64 184.24,182.93 C182.68,183.22 181.11,183.42 179.80,182.95 C178.48,182.48 177.25,181.27 176.34,180.13 C175.44,178.99 174.69,178.04 174.38,176.12 C174.06,174.20 173.55,169.67 174.46,168.60 Z" fill="#f6f6f6" stroke="#777" stroke-width="0.55"/>
<path d="M173.54,169.83 C174.34,168.87 176.78,169.85 178.53,170.10 C180.28,170.35 182.03,171.22 184.05,171.35 C186.07,171.47 188.97,170.63 190.63,170.84 C192.29,171.04 193.43,171.74 194.00,172.57 C194.57,173.40 194.62,174.99 194.08,175.81 C193.54,176.64 192.10,176.89 190.77,177.51 C189.45,178.14 187.43,178.98 186.13,179.55 C184.83,180.13 184.28,180.71 182.98,180.97 C181.67,181.22 179.38,181.38 178.31,181.09 C177.24,180.81 177.33,180.12 176.57,179.25 C175.81,178.38 174.24,177.44 173.74,175.87 C173.23,174.30 172.74,170.79 173.54,169.83 Z" fill="#eeeeee" stroke="#666" stroke-width="0.55"/>
<path d="M173.74,170.27 C174.34,169.56 176.01,170.45 177.46,170.76 C178.91,171.06 180.82,171.94 182.44,172.13 C184.06,172.31 185.96,171.75 187.18,171.84 C188.41,171.93 189.25,172.05 189.79,172.69 C190.33,173.32 190.82,174.96 190.44,175.63 C190.07,176.31 188.63,176.29 187.56,176.76 C186.49,177.23 185.15,178.00 184.02,178.45 C182.88,178.90 181.77,179.29 180.73,179.45 C179.70,179.61 178.61,179.60 177.78,179.41 C176.95,179.21 176.41,179.01 175.76,178.28 C175.11,177.55 174.20,176.35 173.86,175.01 C173.53,173.68 173.14,170.98 173.74,170.27 Z" fill="#e0e0e0" stroke="#555" stroke-width="0.55"/>
<path d="M173.72,170.70 C174.18,170.08 176.03,170.87 177.08,171.04 C178.13,171.22 178.85,171.64 180.03,171.76 C181.21,171.88 183.14,171.61 184.15,171.74 C185.16,171.88 185.80,172.10 186.10,172.57 C186.39,173.05 186.19,174.12 185.91,174.58 C185.64,175.03 185.23,174.93 184.45,175.31 C183.67,175.70 182.14,176.38 181.24,176.89 C180.35,177.39 179.84,178.15 179.08,178.34 C178.32,178.54 177.26,178.34 176.67,178.05 C176.09,177.77 175.97,177.16 175.58,176.62 C175.18,176.07 174.61,175.75 174.30,174.77 C173.99,173.78 173.26,171.32 173.72,170.70 Z" fill="#c8c8c8" stroke="#444" stroke-width="0.55"/>
<path d="M173.89,171.47 C174.17,171.03 175.09,171.47 175.79,171.63 C176.49,171.79 177.25,172.34 178.09,172.42 C178.94,172.50 180.18,172.06 180.86,172.11 C181.54,172.16 181.95,172.41 182.17,172.73 C182.40,173.05 182.41,173.68 182.20,174.03 C182.00,174.38 181.47,174.59 180.94,174.82 C180.40,175.04 179.51,175.14 178.98,175.40 C178.45,175.67 178.22,176.24 177.75,176.40 C177.28,176.55 176.62,176.48 176.19,176.33 C175.75,176.18 175.47,175.85 175.13,175.50 C174.78,175.16 174.33,174.92 174.12,174.25 C173.92,173.58 173.61,171.91 173.89,171.47 Z" fill="#888" stroke="#333" stroke-width="0.55"/>
<path d="M174.00,171.92 C174.17,171.71 174.68,172.10 175.12,172.21 C175.55,172.32 176.14,172.55 176.62,172.58 C177.10,172.62 177.58,172.38 177.99,172.43 C178.40,172.47 178.92,172.66 179.10,172.85 C179.28,173.05 179.20,173.43 179.07,173.62 C178.93,173.80 178.61,173.80 178.27,173.96 C177.93,174.12 177.35,174.44 177.02,174.58 C176.68,174.73 176.54,174.76 176.26,174.83 C175.97,174.91 175.58,175.15 175.31,175.06 C175.03,174.96 174.82,174.53 174.62,174.27 C174.42,174.01 174.20,173.91 174.10,173.52 C174.00,173.13 173.83,172.14 174.00,171.92 Z" fill="#222" stroke="#000" stroke-width="0.55"/>
<path d="M196.32,188.24 C197.06,186.22 199.06,186.33 200.80,185.94 C202.53,185.56 205.35,185.34 206.74,185.92 C208.13,186.51 208.55,187.59 209.13,189.47 C209.71,191.34 210.45,195.02 210.24,197.15 C210.04,199.27 209.61,201.31 207.90,202.21 C206.19,203.11 201.90,203.24 199.97,202.55 C198.04,201.86 196.95,200.46 196.34,198.07 C195.74,195.69 195.58,190.26 196.32,188.24 Z" fill="#f2f2f2" stroke="#777" stroke-width="0.55"/>
<path d="M196.52,189.09 C197.02,187.30 198.87,187.90 200.45,187.54 C202.03,187.17 204.65,186.43 206.03,186.89 C207.41,187.35 208.27,188.67 208.72,190.31 C209.17,191.95 209.15,194.77 208.74,196.75 C208.32,198.73 207.69,201.36 206.23,202.21 C204.77,203.05 201.42,202.47 199.96,201.81 C198.50,201.15 198.02,200.37 197.44,198.25 C196.87,196.13 196.02,190.87 196.52,189.09 Z" fill="#e0e0e0" stroke="#666" stroke-width="0.55"/>
<path d="M197.53,190.99 C198.06,189.50 199.58,189.29 200.81,188.99 C202.03,188.69 203.78,188.66 204.89,189.18 C206.00,189.69 206.99,190.77 207.47,192.08 C207.95,193.38 208.05,195.52 207.76,197.00 C207.47,198.47 206.99,200.26 205.72,200.93 C204.45,201.60 201.52,201.50 200.16,201.00 C198.81,200.50 198.05,199.60 197.61,197.93 C197.17,196.27 197.00,192.48 197.53,190.99 Z" fill="#c8c8c8" stroke="#555" stroke-width="0.55"/>
<path d="M198.14,192.09 C198.57,190.84 199.75,190.69 200.83,190.43 C201.90,190.17 203.71,190.13 204.58,190.53 C205.46,190.93 205.78,191.78 206.09,192.85 C206.40,193.92 206.57,195.73 206.43,196.95 C206.29,198.18 206.20,199.54 205.26,200.18 C204.31,200.82 201.95,201.14 200.77,200.77 C199.60,200.40 198.64,199.40 198.20,197.96 C197.76,196.51 197.70,193.35 198.14,192.09 Z" fill="#a9a9a9" stroke="#444" stroke-width="0.55"/>
<path d="M199.05,193.26 C199.36,192.27 200.07,192.06 200.83,191.90 C201.59,191.74 202.91,191.95 203.61,192.30 C204.30,192.66 204.70,193.15 205.01,194.02 C205.31,194.88 205.57,196.52 205.43,197.47 C205.28,198.43 204.90,199.31 204.13,199.73 C203.36,200.15 201.69,200.32 200.84,200.01 C199.98,199.69 199.28,198.96 198.98,197.84 C198.69,196.71 198.75,194.25 199.05,193.26 Z" fill="#7a7a7a" stroke="#333" stroke-width="0.55"/>
<path d="M199.90,194.58 C200.12,193.95 200.52,193.96 201.03,193.80 C201.54,193.64 202.45,193.40 202.97,193.61 C203.49,193.82 203.94,194.43 204.13,195.07 C204.32,195.72 204.22,196.81 204.10,197.48 C203.99,198.14 203.96,198.80 203.43,199.07 C202.91,199.34 201.58,199.35 200.96,199.09 C200.34,198.84 199.88,198.30 199.70,197.55 C199.52,196.79 199.68,195.20 199.90,194.58 Z" fill="#4a4a4a" stroke="#222" stroke-width="0.55"/>
<path d="M200.48,195.70 C200.62,195.27 200.88,195.11 201.23,195.01 C201.59,194.91 202.29,194.97 202.60,195.11 C202.91,195.25 203.00,195.45 203.10,195.85 C203.20,196.24 203.25,197.02 203.18,197.47 C203.11,197.91 203.04,198.31 202.69,198.50 C202.35,198.70 201.50,198.79 201.11,198.64 C200.72,198.49 200.47,198.09 200.37,197.60 C200.26,197.11 200.33,196.13 200.48,195.70 Z" fill="#222" stroke="#111" stroke-width="0.5"/>
<rect x="195.50" y="184.30" width="14.50" height="18.30" fill="none" stroke="#000" stroke-width="2.1"/>
<text transform="translate(167.70,190.40) rotate(-90)" x="0" y="0" font-size="11.6" font-weight="bold" textLength="19.40" lengthAdjust="spacingAndGlyphs" fill="#000">CD8</text>
<text x="185.70" y="213.00" font-size="11.0" font-weight="bold" textLength="18.90" lengthAdjust="spacingAndGlyphs" fill="#000">CD4</text>
<line x1="195.30" y1="199.60" x2="134.00" y2="221.20" stroke="#000" stroke-width="1.6" stroke-linecap="butt"/>
<path d="M128.50,223.40 L138.95,215.46 L136.16,220.69 L141.62,223.00 Z" fill="#000"/>
<line x1="206.50" y1="205.00" x2="209.40" y2="217.00" stroke="#000" stroke-width="1.6" stroke-linecap="butt"/>
<path d="M210.50,225.50 L204.32,214.91 L209.20,218.14 L212.69,213.44 Z" fill="#000"/>
<rect x="80.20" y="228.50" width="49.10" height="51.70" fill="#fff" stroke="#666" stroke-width="0.8"/>
<line x1="76.40" y1="233.50" x2="78.60" y2="233.50" stroke="#aaa" stroke-width="0.9" stroke-linecap="butt"/>
<line x1="83.20" y1="282.70" x2="85.40" y2="282.70" stroke="#aaa" stroke-width="0.9" stroke-linecap="butt"/>
<line x1="76.40" y1="244.18" x2="78.60" y2="244.18" stroke="#aaa" stroke-width="0.9" stroke-linecap="butt"/>
<line x1="93.48" y1="282.70" x2="95.68" y2="282.70" stroke="#aaa" stroke-width="0.9" stroke-linecap="butt"/>
<line x1="76.40" y1="254.85" x2="78.60" y2="254.85" stroke="#aaa" stroke-width="0.9" stroke-linecap="butt"/>
<line x1="103.75" y1="282.70" x2="105.95" y2="282.70" stroke="#aaa" stroke-width="0.9" stroke-linecap="butt"/>
<line x1="76.40" y1="265.52" x2="78.60" y2="265.52" stroke="#aaa" stroke-width="0.9" stroke-linecap="butt"/>
<line x1="114.03" y1="282.70" x2="116.23" y2="282.70" stroke="#aaa" stroke-width="0.9" stroke-linecap="butt"/>
<line x1="76.40" y1="276.20" x2="78.60" y2="276.20" stroke="#aaa" stroke-width="0.9" stroke-linecap="butt"/>
<line x1="124.30" y1="282.70" x2="126.50" y2="282.70" stroke="#aaa" stroke-width="0.9" stroke-linecap="butt"/>
<circle cx="105.9" cy="266.5" r="0.45" fill="#777"/>
<circle cx="118.7" cy="262.3" r="0.45" fill="#777"/>
<circle cx="105.3" cy="264.4" r="0.45" fill="#777"/>
<circle cx="115.8" cy="269.8" r="0.45" fill="#777"/>
<circle cx="106.0" cy="258.6" r="0.45" fill="#777"/>
<circle cx="117.1" cy="266.9" r="0.45" fill="#777"/>
<circle cx="121.9" cy="269.3" r="0.45" fill="#777"/>
<circle cx="112.4" cy="263.4" r="0.45" fill="#777"/>
<circle cx="127.8" cy="263.3" r="0.45" fill="#777"/>
<circle cx="108.5" cy="259.4" r="0.45" fill="#777"/>
<circle cx="113.6" cy="265.4" r="0.45" fill="#777"/>
<circle cx="111.0" cy="264.4" r="0.45" fill="#777"/>
<circle cx="114.6" cy="267.9" r="0.45" fill="#777"/>
<circle cx="119.3" cy="265.7" r="0.45" fill="#777"/>
<circle cx="102.7" cy="268.0" r="0.45" fill="#777"/>
<circle cx="104.8" cy="263.9" r="0.45" fill="#777"/>
<circle cx="104.5" cy="264.7" r="0.45" fill="#777"/>
<circle cx="108.5" cy="265.7" r="0.45" fill="#777"/>
<g filter="url(#bl)" transform="translate(113.00,264.70) rotate(-55)">
<ellipse cx="0.00" cy="0" rx="10.50" ry="5.20" fill="#eeeeee" stroke="#aaa" stroke-width="0.5"/>
<ellipse cx="0.25" cy="0" rx="8.82" ry="4.37" fill="#d8d8d8" stroke="#999" stroke-width="0.5"/>
<ellipse cx="0.50" cy="0" rx="7.14" ry="3.54" fill="#bdbdbd" stroke="#888" stroke-width="0.5"/>
<ellipse cx="0.76" cy="0" rx="5.46" ry="2.70" fill="#9c9c9c" stroke="#777" stroke-width="0.5"/>
<ellipse cx="1.01" cy="0" rx="3.78" ry="1.87" fill="#888" stroke="#666" stroke-width="0.5"/>
<ellipse cx="1.23" cy="0" rx="2.31" ry="1.14" fill="#cfcfcf" stroke="#777" stroke-width="0.45"/>
<ellipse cx="1.42" cy="0" rx="1.05" ry="0.52" fill="#f4f4f4" stroke="#aaa" stroke-width="0.4"/>
</g>
<line x1="80.20" y1="254.40" x2="129.30" y2="254.40" stroke="#000" stroke-width="2.0" stroke-linecap="butt"/>
<text x="83.50" y="242.60" font-size="9.0" font-weight="bold" textLength="27.40" lengthAdjust="spacingAndGlyphs" fill="#000">0.29%</text>
<circle cx="118.5" cy="239.5" r="0.55" fill="#666"/>
<circle cx="116.5" cy="246.5" r="0.55" fill="#666"/>
<circle cx="117.8" cy="249.5" r="0.55" fill="#666"/>
<circle cx="119.0" cy="251.5" r="0.55" fill="#666"/>
<rect x="164.50" y="229.00" width="51.00" height="51.00" fill="#fff" stroke="#666" stroke-width="0.8"/>
<line x1="160.70" y1="234.00" x2="162.90" y2="234.00" stroke="#aaa" stroke-width="0.9" stroke-linecap="butt"/>
<line x1="167.50" y1="282.50" x2="169.70" y2="282.50" stroke="#aaa" stroke-width="0.9" stroke-linecap="butt"/>
<line x1="160.70" y1="244.50" x2="162.90" y2="244.50" stroke="#aaa" stroke-width="0.9" stroke-linecap="butt"/>
<line x1="178.25" y1="282.50" x2="180.45" y2="282.50" stroke="#aaa" stroke-width="0.9" stroke-linecap="butt"/>
<line x1="160.70" y1="255.00" x2="162.90" y2="255.00" stroke="#aaa" stroke-width="0.9" stroke-linecap="butt"/>
<line x1="189.00" y1="282.50" x2="191.20" y2="282.50" stroke="#aaa" stroke-width="0.9" stroke-linecap="butt"/>
<line x1="160.70" y1="265.50" x2="162.90" y2="265.50" stroke="#aaa" stroke-width="0.9" stroke-linecap="butt"/>
<line x1="199.75" y1="282.50" x2="201.95" y2="282.50" stroke="#aaa" stroke-width="0.9" stroke-linecap="butt"/>
<line x1="160.70" y1="276.00" x2="162.90" y2="276.00" stroke="#aaa" stroke-width="0.9" stroke-linecap="butt"/>
<line x1="210.50" y1="282.50" x2="212.70" y2="282.50" stroke="#aaa" stroke-width="0.9" stroke-linecap="butt"/>
<circle cx="189.1" cy="267.1" r="0.45" fill="#777"/>
<circle cx="196.4" cy="263.5" r="0.45" fill="#777"/>
<circle cx="204.3" cy="266.2" r="0.45" fill="#777"/>
<circle cx="196.5" cy="275.0" r="0.45" fill="#777"/>
<circle cx="195.1" cy="259.5" r="0.45" fill="#777"/>
<circle cx="189.5" cy="263.2" r="0.45" fill="#777"/>
<circle cx="202.4" cy="270.2" r="0.45" fill="#777"/>
<circle cx="205.4" cy="275.2" r="0.45" fill="#777"/>
<circle cx="209.1" cy="269.3" r="0.45" fill="#777"/>
<circle cx="206.8" cy="269.4" r="0.45" fill="#777"/>
<circle cx="194.9" cy="270.3" r="0.45" fill="#777"/>
<circle cx="198.9" cy="265.1" r="0.45" fill="#777"/>
<circle cx="211.2" cy="270.1" r="0.45" fill="#777"/>
<circle cx="195.4" cy="265.8" r="0.45" fill="#777"/>
<circle cx="213.5" cy="264.9" r="0.45" fill="#777"/>
<circle cx="203.2" cy="269.3" r="0.45" fill="#777"/>
<circle cx="201.8" cy="269.2" r="0.45" fill="#777"/>
<circle cx="195.5" cy="263.8" r="0.45" fill="#777"/>
<g filter="url(#bl)" transform="translate(198.20,265.90) rotate(-50)">
<ellipse cx="0.00" cy="0" rx="11.50" ry="5.60" fill="#eeeeee" stroke="#aaa" stroke-width="0.5"/>
<ellipse cx="0.28" cy="0" rx="9.66" ry="4.70" fill="#d8d8d8" stroke="#999" stroke-width="0.5"/>
<ellipse cx="0.55" cy="0" rx="7.82" ry="3.81" fill="#bdbdbd" stroke="#888" stroke-width="0.5"/>
<ellipse cx="0.83" cy="0" rx="5.98" ry="2.91" fill="#9c9c9c" stroke="#777" stroke-width="0.5"/>
<ellipse cx="1.10" cy="0" rx="4.14" ry="2.02" fill="#888" stroke="#666" stroke-width="0.5"/>
<ellipse cx="1.35" cy="0" rx="2.53" ry="1.23" fill="#cfcfcf" stroke="#777" stroke-width="0.45"/>
<ellipse cx="1.55" cy="0" rx="1.15" ry="0.56" fill="#f4f4f4" stroke="#aaa" stroke-width="0.4"/>
</g>
<line x1="164.50" y1="254.50" x2="215.50" y2="254.50" stroke="#000" stroke-width="2.0" stroke-linecap="butt"/>
<text x="169.60" y="242.60" font-size="9.0" font-weight="bold" textLength="21.80" lengthAdjust="spacingAndGlyphs" fill="#000">4.9%</text>
<circle cx="198.6" cy="249.4" r="0.5" fill="#333"/>
<circle cx="201.1" cy="247.1" r="0.5" fill="#333"/>
<circle cx="200.6" cy="239.7" r="0.5" fill="#333"/>
<circle cx="200.8" cy="249.5" r="0.5" fill="#333"/>
<circle cx="203.2" cy="244.3" r="0.5" fill="#333"/>
<circle cx="199.6" cy="249.8" r="0.5" fill="#333"/>
<circle cx="202.8" cy="234.5" r="0.5" fill="#333"/>
<circle cx="202.4" cy="243.2" r="0.5" fill="#333"/>
<circle cx="203.1" cy="246.7" r="0.5" fill="#333"/>
<circle cx="201.5" cy="248.8" r="0.5" fill="#333"/>
<circle cx="200.3" cy="250.9" r="0.5" fill="#333"/>
<circle cx="200.2" cy="245.1" r="0.5" fill="#333"/>
<circle cx="201.9" cy="250.8" r="0.5" fill="#333"/>
<circle cx="199.7" cy="248.8" r="0.5" fill="#333"/>
<circle cx="204.6" cy="236.0" r="0.5" fill="#333"/>
<circle cx="200.1" cy="239.7" r="0.5" fill="#333"/>
<circle cx="196.6" cy="251.7" r="0.5" fill="#333"/>
<circle cx="201.8" cy="249.1" r="0.5" fill="#333"/>
<circle cx="199.4" cy="247.4" r="0.5" fill="#333"/>
<circle cx="201.5" cy="246.9" r="0.5" fill="#333"/>
<circle cx="200.3" cy="253.9" r="0.5" fill="#333"/>
<circle cx="201.5" cy="236.7" r="0.5" fill="#333"/>
<circle cx="201.0" cy="243.4" r="0.5" fill="#333"/>
<circle cx="199.5" cy="242.7" r="0.5" fill="#333"/>
<circle cx="199.9" cy="251.2" r="0.5" fill="#333"/>
<circle cx="201.7" cy="238.8" r="0.5" fill="#333"/>
<circle cx="200.3" cy="248.5" r="0.5" fill="#333"/>
<circle cx="202.4" cy="238.7" r="0.5" fill="#333"/>
<circle cx="200.3" cy="240.0" r="0.5" fill="#333"/>
<circle cx="199.6" cy="238.9" r="0.5" fill="#333"/>
<circle cx="200.6" cy="236.0" r="0.5" fill="#333"/>
<circle cx="200.0" cy="245.7" r="0.5" fill="#333"/>
<circle cx="202.7" cy="238.9" r="0.5" fill="#333"/>
<circle cx="202.3" cy="238.7" r="0.5" fill="#333"/>
<circle cx="203.2" cy="239.5" r="0.5" fill="#333"/>
<circle cx="199.1" cy="248.9" r="0.5" fill="#333"/>
<circle cx="197.3" cy="254.1" r="0.5" fill="#333"/>
<circle cx="202.9" cy="235.6" r="0.5" fill="#333"/>
<circle cx="201.2" cy="248.9" r="0.5" fill="#333"/>
<circle cx="202.7" cy="241.2" r="0.5" fill="#333"/>
<circle cx="203.0" cy="237.3" r="0.5" fill="#333"/>
<circle cx="199.7" cy="243.9" r="0.5" fill="#333"/>
<circle cx="201.7" cy="240.2" r="0.5" fill="#333"/>
<circle cx="199.8" cy="248.7" r="0.5" fill="#333"/>
<circle cx="201.9" cy="241.8" r="0.5" fill="#333"/>
<circle cx="201.9" cy="243.2" r="1.0" fill="#111"/>
<text x="92.40" y="227.40" font-size="10.0" font-weight="bold" textLength="24.80" lengthAdjust="spacingAndGlyphs" fill="#000">Mn (-)</text>
<text x="174.70" y="227.40" font-size="10.0" font-weight="bold" textLength="27.50" lengthAdjust="spacingAndGlyphs" fill="#000">Mn (+)</text>
<text transform="translate(73.50,272.50) rotate(-90)" x="0" y="0" font-size="10.6" font-weight="bold" textLength="27.00" lengthAdjust="spacingAndGlyphs" fill="#000">IL-17A</text>
<text transform="translate(158.50,272.50) rotate(-90)" x="0" y="0" font-size="10.6" font-weight="bold" textLength="27.00" lengthAdjust="spacingAndGlyphs" fill="#000">IL-17A</text>
<text x="96.90" y="294.10" font-size="11.0" font-weight="bold" textLength="18.80" lengthAdjust="spacingAndGlyphs" fill="#000">CD4</text>
<text x="180.00" y="294.10" font-size="11.0" font-weight="bold" textLength="19.80" lengthAdjust="spacingAndGlyphs" fill="#000">CD4</text>
<text x="256.30" y="163.20" font-size="15.8" font-weight="bold" textLength="12.30" lengthAdjust="spacingAndGlyphs" fill="#000" stroke="#000" stroke-width="0.7">C</text>
<line x1="297.40" y1="169.69" x2="297.40" y2="256.80" stroke="#000" stroke-width="1.8" stroke-linecap="butt"/>
<line x1="293.60" y1="255.90" x2="355.60" y2="255.90" stroke="#000" stroke-width="1.8" stroke-linecap="butt"/>
<line x1="293.60" y1="170.50" x2="297.40" y2="170.50" stroke="#000" stroke-width="1.53" stroke-linecap="butt"/>
<text x="293.00" y="173.65" font-size="8.8" text-anchor="end" textLength="5.40" lengthAdjust="spacingAndGlyphs" fill="#000" stroke="#000" stroke-width="0.55">6</text>
<line x1="293.60" y1="200.50" x2="297.40" y2="200.50" stroke="#000" stroke-width="1.53" stroke-linecap="butt"/>
<text x="293.00" y="203.65" font-size="8.8" text-anchor="end" textLength="5.40" lengthAdjust="spacingAndGlyphs" fill="#000" stroke="#000" stroke-width="0.55">4</text>
<line x1="293.60" y1="227.40" x2="297.40" y2="227.40" stroke="#000" stroke-width="1.53" stroke-linecap="butt"/>
<text x="293.00" y="230.55" font-size="8.8" text-anchor="end" textLength="5.40" lengthAdjust="spacingAndGlyphs" fill="#000" stroke="#000" stroke-width="0.55">2</text>
<line x1="293.60" y1="255.90" x2="297.40" y2="255.90" stroke="#000" stroke-width="1.53" stroke-linecap="butt"/>
<text x="293.00" y="259.05" font-size="8.8" text-anchor="end" textLength="5.40" lengthAdjust="spacingAndGlyphs" fill="#000" stroke="#000" stroke-width="0.55">0</text>
<line x1="315.85" y1="248.70" x2="315.85" y2="250.50" stroke="#000" stroke-width="1.5" stroke-linecap="butt"/>
<line x1="311.80" y1="248.70" x2="319.90" y2="248.70" stroke="#000" stroke-width="1.7" stroke-linecap="butt"/>
<rect x="305.85" y="251.25" width="19.10" height="4.65" fill="#c4c4c4" stroke="#000" stroke-width="1.5"/>
<line x1="342.85" y1="181.90" x2="342.85" y2="184.20" stroke="#000" stroke-width="1.5" stroke-linecap="butt"/>
<line x1="338.60" y1="181.90" x2="347.10" y2="181.90" stroke="#000" stroke-width="1.7" stroke-linecap="butt"/>
<rect x="334.15" y="184.95" width="15.60" height="70.95" fill="#000" stroke="#000" stroke-width="1.5"/>
<line x1="311.00" y1="175.30" x2="346.10" y2="175.30" stroke="#000" stroke-width="1.7" stroke-linecap="butt"/>
<line x1="328.60" y1="167.60" x2="328.60" y2="173.60" stroke="#000" stroke-width="1.3" stroke-linecap="butt"/>
<line x1="331.20" y1="169.10" x2="326.00" y2="172.10" stroke="#000" stroke-width="1.3" stroke-linecap="butt"/>
<line x1="331.20" y1="172.10" x2="326.00" y2="169.10" stroke="#000" stroke-width="1.3" stroke-linecap="butt"/>
<text transform="translate(281.10,270.00) rotate(-90)" x="0" y="0" font-size="9.4" textLength="108.80" lengthAdjust="spacingAndGlyphs" fill="#000" stroke="#000" stroke-width="0.55">% IL-17A⁺ / CD4⁺ T cells</text>
<text x="281.30" y="270.00" font-size="9.4" textLength="27.50" lengthAdjust="spacingAndGlyphs" fill="#000" stroke="#000" stroke-width="0.55">αCD3</text>
<text x="295.00" y="279.70" font-size="9.4" textLength="12.50" lengthAdjust="spacingAndGlyphs" fill="#000" stroke="#000" stroke-width="0.55">Mn</text>
<text x="315.60" y="270.00" font-size="8.6" font-weight="bold" text-anchor="middle" textLength="11.30" lengthAdjust="spacingAndGlyphs" fill="#000">(+)</text>
<text x="342.20" y="270.00" font-size="8.6" font-weight="bold" text-anchor="middle" textLength="11.70" lengthAdjust="spacingAndGlyphs" fill="#000">(+)</text>
<text x="316.30" y="279.70" font-size="8.6" font-weight="bold" text-anchor="middle" textLength="10.00" lengthAdjust="spacingAndGlyphs" fill="#000">(-)</text>
<text x="342.20" y="279.70" font-size="8.6" font-weight="bold" text-anchor="middle" textLength="11.70" lengthAdjust="spacingAndGlyphs" fill="#000">(+)</text>
<text x="370.30" y="163.20" font-size="15.8" font-weight="bold" textLength="11.00" lengthAdjust="spacingAndGlyphs" fill="#000" stroke="#000" stroke-width="0.7">D</text>
<line x1="419.80" y1="169.39" x2="419.80" y2="256.70" stroke="#000" stroke-width="1.8" stroke-linecap="butt"/>
<line x1="416.80" y1="255.80" x2="479.20" y2="255.80" stroke="#000" stroke-width="1.8" stroke-linecap="butt"/>
<line x1="416.80" y1="170.20" x2="419.80" y2="170.20" stroke="#000" stroke-width="1.53" stroke-linecap="butt"/>
<text x="416.40" y="173.20" font-size="8.38" text-anchor="end" textLength="15.30" lengthAdjust="spacingAndGlyphs" fill="#000" stroke="#000" stroke-width="0.55">500</text>
<line x1="416.80" y1="187.90" x2="419.80" y2="187.90" stroke="#000" stroke-width="1.53" stroke-linecap="butt"/>
<text x="416.40" y="190.90" font-size="8.38" text-anchor="end" textLength="15.30" lengthAdjust="spacingAndGlyphs" fill="#000" stroke="#000" stroke-width="0.55">400</text>
<line x1="416.80" y1="204.80" x2="419.80" y2="204.80" stroke="#000" stroke-width="1.53" stroke-linecap="butt"/>
<text x="416.40" y="207.80" font-size="8.38" text-anchor="end" textLength="15.30" lengthAdjust="spacingAndGlyphs" fill="#000" stroke="#000" stroke-width="0.55">300</text>
<line x1="416.80" y1="221.60" x2="419.80" y2="221.60" stroke="#000" stroke-width="1.53" stroke-linecap="butt"/>
<text x="416.40" y="224.60" font-size="8.38" text-anchor="end" textLength="15.30" lengthAdjust="spacingAndGlyphs" fill="#000" stroke="#000" stroke-width="0.55">200</text>
<line x1="416.80" y1="240.80" x2="419.80" y2="240.80" stroke="#000" stroke-width="1.53" stroke-linecap="butt"/>
<text x="416.40" y="243.80" font-size="8.38" text-anchor="end" textLength="15.30" lengthAdjust="spacingAndGlyphs" fill="#000" stroke="#000" stroke-width="0.55">100</text>
<line x1="416.80" y1="255.80" x2="419.80" y2="255.80" stroke="#000" stroke-width="1.53" stroke-linecap="butt"/>
<text x="416.40" y="258.80" font-size="8.38" text-anchor="end" textLength="5.10" lengthAdjust="spacingAndGlyphs" fill="#000" stroke="#000" stroke-width="0.55">0</text>
<line x1="440.50" y1="250.90" x2="440.50" y2="253.70" stroke="#000" stroke-width="1.5" stroke-linecap="butt"/>
<line x1="436.50" y1="250.90" x2="444.50" y2="250.90" stroke="#000" stroke-width="1.7" stroke-linecap="butt"/>
<rect x="429.55" y="254.45" width="21.50" height="1.35" fill="#fff" stroke="#000" stroke-width="1.5"/>
<line x1="463.75" y1="183.90" x2="463.75" y2="199.80" stroke="#000" stroke-width="1.5" stroke-linecap="butt"/>
<line x1="459.60" y1="183.90" x2="467.90" y2="183.90" stroke="#000" stroke-width="1.7" stroke-linecap="butt"/>
<rect x="456.65" y="200.55" width="15.80" height="55.25" fill="#000" stroke="#000" stroke-width="1.5"/>
<line x1="436.00" y1="175.30" x2="470.20" y2="175.30" stroke="#000" stroke-width="1.7" stroke-linecap="butt"/>
<line x1="453.00" y1="167.80" x2="453.00" y2="173.80" stroke="#000" stroke-width="1.3" stroke-linecap="butt"/>
<line x1="455.60" y1="169.30" x2="450.40" y2="172.30" stroke="#000" stroke-width="1.3" stroke-linecap="butt"/>
<line x1="455.60" y1="172.30" x2="450.40" y2="169.30" stroke="#000" stroke-width="1.3" stroke-linecap="butt"/>
<text transform="translate(396.70,271.50) rotate(-90)" x="0" y="0" font-size="9.8" textLength="111.20" lengthAdjust="spacingAndGlyphs" fill="#000" stroke="#000" stroke-width="0.55"># of IL-17A⁺ CD4⁺ T cells</text>
<text x="403.80" y="269.50" font-size="9.4" textLength="28.70" lengthAdjust="spacingAndGlyphs" fill="#000" stroke="#000" stroke-width="0.55">αCD3</text>
<text x="417.50" y="279.50" font-size="9.4" textLength="13.80" lengthAdjust="spacingAndGlyphs" fill="#000" stroke="#000" stroke-width="0.55">Mn</text>
<text x="441.20" y="269.50" font-size="8.6" font-weight="bold" text-anchor="middle" textLength="11.50" lengthAdjust="spacingAndGlyphs" fill="#000">(+)</text>
<text x="466.50" y="269.50" font-size="8.6" font-weight="bold" text-anchor="middle" textLength="12.00" lengthAdjust="spacingAndGlyphs" fill="#000">(+)</text>
<text x="441.20" y="279.50" font-size="8.6" font-weight="bold" text-anchor="middle" textLength="10.00" lengthAdjust="spacingAndGlyphs" fill="#000">(-)</text>
<text x="466.50" y="279.50" font-size="8.6" font-weight="bold" text-anchor="middle" textLength="12.00" lengthAdjust="spacingAndGlyphs" fill="#000">(+)</text>
<text x="0.00" y="315.60" font-size="15.8" font-weight="bold" textLength="11.00" lengthAdjust="spacingAndGlyphs" fill="#000" stroke="#000" stroke-width="0.7">E</text>
<text x="82.70" y="330.30" font-size="10.0" font-weight="bold" textLength="25.60" lengthAdjust="spacingAndGlyphs" fill="#000">Mn (-)</text>
<text x="145.00" y="330.00" font-size="10.0" font-weight="bold" textLength="28.00" lengthAdjust="spacingAndGlyphs" fill="#000">Mn (+)</text>
<rect x="66.60" y="332.10" width="54.50" height="54.80" fill="#fff" stroke="#666" stroke-width="0.8"/>
<text x="60.80" y="338.40" font-size="5.5" fill="#666" stroke="#666" stroke-width="0.55">′</text>
<text x="60.80" y="350.90" font-size="5.5" fill="#666" stroke="#666" stroke-width="0.55">′</text>
<text x="60.80" y="364.20" font-size="5.5" fill="#666" stroke="#666" stroke-width="0.55">′</text>
<text x="60.80" y="376.80" font-size="5.5" fill="#666" stroke="#666" stroke-width="0.55">′</text>
<text x="60.80" y="383.00" font-size="5.5" fill="#666" stroke="#666" stroke-width="0.55">′</text>
<text x="68.70" y="392.40" font-size="5.5" fill="#666" stroke="#666" stroke-width="0.55">′</text>
<text x="77.30" y="392.40" font-size="5.5" fill="#666" stroke="#666" stroke-width="0.55">′</text>
<text x="91.40" y="392.40" font-size="5.5" fill="#666" stroke="#666" stroke-width="0.55">′</text>
<text x="103.10" y="392.40" font-size="5.5" fill="#666" stroke="#666" stroke-width="0.55">′</text>
<text x="114.10" y="392.40" font-size="5.5" fill="#666" stroke="#666" stroke-width="0.55">′</text>
<circle cx="104.1" cy="356.3" r="0.5" fill="#555"/>
<circle cx="107.3" cy="361.6" r="0.5" fill="#555"/>
<circle cx="97.5" cy="361.4" r="0.5" fill="#555"/>
<circle cx="94.7" cy="373.2" r="0.5" fill="#555"/>
<circle cx="94.5" cy="377.9" r="0.5" fill="#555"/>
<circle cx="96.3" cy="377.7" r="0.5" fill="#555"/>
<circle cx="101.9" cy="380.9" r="0.5" fill="#555"/>
<circle cx="93.0" cy="369.6" r="0.5" fill="#555"/>
<circle cx="103.5" cy="358.2" r="0.5" fill="#555"/>
<circle cx="101.2" cy="380.6" r="0.5" fill="#555"/>
<circle cx="106.5" cy="361.3" r="0.5" fill="#555"/>
<circle cx="100.3" cy="380.9" r="0.5" fill="#555"/>
<circle cx="104.7" cy="381.5" r="0.5" fill="#555"/>
<circle cx="97.2" cy="381.2" r="0.5" fill="#555"/>
<circle cx="108.3" cy="371.1" r="0.5" fill="#555"/>
<circle cx="106.3" cy="376.3" r="0.5" fill="#555"/>
<circle cx="97.2" cy="383.5" r="0.5" fill="#555"/>
<circle cx="95.1" cy="372.8" r="0.5" fill="#555"/>
<circle cx="100.5" cy="358.4" r="0.5" fill="#555"/>
<circle cx="93.5" cy="368.6" r="0.5" fill="#555"/>
<circle cx="94.6" cy="366.4" r="0.5" fill="#555"/>
<circle cx="106.3" cy="380.4" r="0.5" fill="#555"/>
<circle cx="103.9" cy="359.8" r="0.5" fill="#555"/>
<circle cx="94.5" cy="367.2" r="0.5" fill="#555"/>
<circle cx="100.3" cy="381.8" r="0.5" fill="#555"/>
<circle cx="98.4" cy="383.5" r="0.5" fill="#555"/>
<g filter="url(#bl)" transform="translate(102.20,370.00) rotate(-72)">
<ellipse cx="0.00" cy="0" rx="11.50" ry="7.20" fill="#e8e8e8" stroke="#aaa" stroke-width="0.5"/>
<ellipse cx="0.22" cy="0" rx="9.66" ry="6.05" fill="#d2d2d2" stroke="#999" stroke-width="0.5"/>
<ellipse cx="0.44" cy="0" rx="7.82" ry="4.90" fill="#b8b8b8" stroke="#888" stroke-width="0.5"/>
<ellipse cx="0.66" cy="0" rx="5.98" ry="3.74" fill="#9a9a9a" stroke="#6a6a6a" stroke-width="0.5"/>
<ellipse cx="0.88" cy="0" rx="4.14" ry="2.59" fill="#7e7e7e" stroke="#555" stroke-width="0.5"/>
<ellipse cx="1.08" cy="0" rx="2.53" ry="1.58" fill="#c8c8c8" stroke="#666" stroke-width="0.45"/>
<ellipse cx="1.24" cy="0" rx="1.15" ry="0.72" fill="#f4f4f4" stroke="#aaa" stroke-width="0.4"/>
</g>
<circle cx="99.0" cy="355.2" r="0.5" fill="#333"/>
<circle cx="98.2" cy="350.8" r="0.5" fill="#333"/>
<circle cx="99.7" cy="354.4" r="0.5" fill="#333"/>
<line x1="66.60" y1="359.50" x2="121.10" y2="359.50" stroke="#444" stroke-width="1.0" stroke-linecap="butt"/>
<text x="71.00" y="347.80" font-size="7.6" font-weight="bold" textLength="21.10" lengthAdjust="spacingAndGlyphs" fill="#000" stroke="#000" stroke-width="0.25">0.43%</text>
<rect x="130.50" y="332.40" width="54.80" height="54.50" fill="#fff" stroke="#666" stroke-width="0.8"/>
<text x="124.70" y="338.70" font-size="5.5" fill="#666" stroke="#666" stroke-width="0.55">′</text>
<text x="124.70" y="351.20" font-size="5.5" fill="#666" stroke="#666" stroke-width="0.55">′</text>
<text x="124.70" y="364.50" font-size="5.5" fill="#666" stroke="#666" stroke-width="0.55">′</text>
<text x="124.70" y="377.10" font-size="5.5" fill="#666" stroke="#666" stroke-width="0.55">′</text>
<text x="124.70" y="383.30" font-size="5.5" fill="#666" stroke="#666" stroke-width="0.55">′</text>
<text x="132.60" y="392.40" font-size="5.5" fill="#666" stroke="#666" stroke-width="0.55">′</text>
<text x="141.20" y="392.40" font-size="5.5" fill="#666" stroke="#666" stroke-width="0.55">′</text>
<text x="155.30" y="392.40" font-size="5.5" fill="#666" stroke="#666" stroke-width="0.55">′</text>
<text x="167.00" y="392.40" font-size="5.5" fill="#666" stroke="#666" stroke-width="0.55">′</text>
<text x="178.00" y="392.40" font-size="5.5" fill="#666" stroke="#666" stroke-width="0.55">′</text>
<circle cx="171.8" cy="373.3" r="0.5" fill="#555"/>
<circle cx="162.6" cy="379.5" r="0.5" fill="#555"/>
<circle cx="177.7" cy="363.1" r="0.5" fill="#555"/>
<circle cx="174.1" cy="357.6" r="0.5" fill="#555"/>
<circle cx="163.6" cy="364.9" r="0.5" fill="#555"/>
<circle cx="157.1" cy="377.9" r="0.5" fill="#555"/>
<circle cx="174.6" cy="369.6" r="0.5" fill="#555"/>
<circle cx="175.1" cy="372.9" r="0.5" fill="#555"/>
<circle cx="167.6" cy="359.9" r="0.5" fill="#555"/>
<circle cx="165.7" cy="363.2" r="0.5" fill="#555"/>
<circle cx="167.8" cy="378.6" r="0.5" fill="#555"/>
<circle cx="160.3" cy="365.8" r="0.5" fill="#555"/>
<circle cx="170.4" cy="361.1" r="0.5" fill="#555"/>
<circle cx="155.4" cy="375.2" r="0.5" fill="#555"/>
<circle cx="158.1" cy="378.6" r="0.5" fill="#555"/>
<circle cx="159.3" cy="379.0" r="0.5" fill="#555"/>
<circle cx="175.3" cy="357.3" r="0.5" fill="#555"/>
<circle cx="156.8" cy="377.5" r="0.5" fill="#555"/>
<circle cx="173.0" cy="358.7" r="0.5" fill="#555"/>
<circle cx="171.7" cy="357.9" r="0.5" fill="#555"/>
<circle cx="157.1" cy="379.4" r="0.5" fill="#555"/>
<circle cx="156.3" cy="375.2" r="0.5" fill="#555"/>
<circle cx="175.7" cy="368.9" r="0.5" fill="#555"/>
<circle cx="166.5" cy="363.1" r="0.5" fill="#555"/>
<circle cx="178.5" cy="361.4" r="0.5" fill="#555"/>
<circle cx="169.9" cy="376.7" r="0.5" fill="#555"/>
<g filter="url(#bl)" transform="translate(167.00,370.00) rotate(-45)">
<ellipse cx="0.00" cy="0" rx="13.50" ry="6.50" fill="#e8e8e8" stroke="#aaa" stroke-width="0.5"/>
<ellipse cx="0.26" cy="0" rx="11.34" ry="5.46" fill="#d2d2d2" stroke="#999" stroke-width="0.5"/>
<ellipse cx="0.52" cy="0" rx="9.18" ry="4.42" fill="#b8b8b8" stroke="#888" stroke-width="0.5"/>
<ellipse cx="0.78" cy="0" rx="7.02" ry="3.38" fill="#9a9a9a" stroke="#6a6a6a" stroke-width="0.5"/>
<ellipse cx="1.04" cy="0" rx="4.86" ry="2.34" fill="#7e7e7e" stroke="#555" stroke-width="0.5"/>
<ellipse cx="1.26" cy="0" rx="2.97" ry="1.43" fill="#c8c8c8" stroke="#666" stroke-width="0.45"/>
<ellipse cx="1.46" cy="0" rx="1.35" ry="0.65" fill="#f4f4f4" stroke="#aaa" stroke-width="0.4"/>
</g>
<circle cx="163.2" cy="353.9" r="0.5" fill="#333"/>
<circle cx="161.6" cy="357.6" r="0.5" fill="#333"/>
<circle cx="167.4" cy="347.4" r="0.5" fill="#333"/>
<circle cx="168.2" cy="344.8" r="0.5" fill="#333"/>
<circle cx="171.2" cy="339.7" r="0.5" fill="#333"/>
<circle cx="162.9" cy="354.5" r="0.5" fill="#333"/>
<circle cx="162.5" cy="356.8" r="0.5" fill="#333"/>
<circle cx="167.4" cy="351.1" r="0.5" fill="#333"/>
<circle cx="172.8" cy="339.0" r="0.5" fill="#333"/>
<circle cx="172.6" cy="338.1" r="0.5" fill="#333"/>
<circle cx="171.8" cy="336.5" r="0.5" fill="#333"/>
<circle cx="169.6" cy="336.8" r="0.5" fill="#333"/>
<circle cx="164.0" cy="356.0" r="0.5" fill="#333"/>
<circle cx="159.2" cy="360.8" r="0.5" fill="#333"/>
<circle cx="164.4" cy="353.7" r="0.5" fill="#333"/>
<circle cx="162.3" cy="356.6" r="0.5" fill="#333"/>
<circle cx="166.5" cy="356.8" r="0.5" fill="#333"/>
<circle cx="165.2" cy="351.8" r="0.5" fill="#333"/>
<circle cx="161.6" cy="362.3" r="0.5" fill="#333"/>
<circle cx="163.3" cy="358.6" r="0.5" fill="#333"/>
<circle cx="163.7" cy="355.8" r="0.5" fill="#333"/>
<circle cx="166.5" cy="347.4" r="0.5" fill="#333"/>
<circle cx="170.9" cy="337.4" r="0.5" fill="#333"/>
<circle cx="166.3" cy="352.0" r="0.5" fill="#333"/>
<circle cx="164.9" cy="354.2" r="0.5" fill="#333"/>
<circle cx="167.0" cy="349.7" r="0.5" fill="#333"/>
<circle cx="163.2" cy="356.9" r="0.5" fill="#333"/>
<circle cx="170.7" cy="340.6" r="0.5" fill="#333"/>
<circle cx="167.5" cy="337.2" r="0.5" fill="#333"/>
<circle cx="166.4" cy="350.8" r="0.5" fill="#333"/>
<circle cx="169.4" cy="340.7" r="0.5" fill="#333"/>
<circle cx="161.8" cy="362.2" r="0.5" fill="#333"/>
<circle cx="171.8" cy="339.0" r="0.5" fill="#333"/>
<circle cx="168.5" cy="343.8" r="0.5" fill="#333"/>
<circle cx="167.9" cy="341.3" r="0.5" fill="#333"/>
<circle cx="167.9" cy="347.8" r="0.5" fill="#333"/>
<circle cx="174.6" cy="339.7" r="0.5" fill="#333"/>
<circle cx="171.3" cy="337.6" r="0.5" fill="#333"/>
<circle cx="173.2" cy="342.0" r="0.5" fill="#333"/>
<circle cx="168.7" cy="345.6" r="0.5" fill="#333"/>
<circle cx="165.7" cy="345.2" r="0.5" fill="#333"/>
<circle cx="171.2" cy="338.9" r="0.5" fill="#333"/>
<circle cx="173.7" cy="339.2" r="0.5" fill="#333"/>
<circle cx="162.2" cy="357.0" r="0.5" fill="#333"/>
<circle cx="168.0" cy="339.2" r="0.5" fill="#333"/>
<line x1="130.50" y1="359.50" x2="185.30" y2="359.50" stroke="#444" stroke-width="1.0" stroke-linecap="butt"/>
<rect x="131.60" y="338.60" width="27.90" height="12.60" fill="none" stroke="#000" stroke-width="1.7"/>
<text x="135.00" y="348.50" font-size="7.6" font-weight="bold" textLength="21.10" lengthAdjust="spacingAndGlyphs" fill="#000" stroke="#000" stroke-width="0.25">4.86%</text>
<rect x="66.60" y="399.00" width="54.20" height="54.10" fill="#fff" stroke="#666" stroke-width="0.8"/>
<text x="60.80" y="405.30" font-size="5.5" fill="#666" stroke="#666" stroke-width="0.55">′</text>
<text x="60.80" y="417.80" font-size="5.5" fill="#666" stroke="#666" stroke-width="0.55">′</text>
<text x="60.80" y="431.10" font-size="5.5" fill="#666" stroke="#666" stroke-width="0.55">′</text>
<text x="60.80" y="443.70" font-size="5.5" fill="#666" stroke="#666" stroke-width="0.55">′</text>
<text x="60.80" y="449.90" font-size="5.5" fill="#666" stroke="#666" stroke-width="0.55">′</text>
<text x="68.70" y="458.60" font-size="5.5" fill="#666" stroke="#666" stroke-width="0.55">′</text>
<text x="77.30" y="458.60" font-size="5.5" fill="#666" stroke="#666" stroke-width="0.55">′</text>
<text x="91.40" y="458.60" font-size="5.5" fill="#666" stroke="#666" stroke-width="0.55">′</text>
<text x="103.10" y="458.60" font-size="5.5" fill="#666" stroke="#666" stroke-width="0.55">′</text>
<text x="114.10" y="458.60" font-size="5.5" fill="#666" stroke="#666" stroke-width="0.55">′</text>
<circle cx="94.2" cy="442.2" r="0.5" fill="#555"/>
<circle cx="100.2" cy="429.4" r="0.5" fill="#555"/>
<circle cx="97.1" cy="433.4" r="0.5" fill="#555"/>
<circle cx="112.2" cy="427.9" r="0.5" fill="#555"/>
<circle cx="109.3" cy="425.5" r="0.5" fill="#555"/>
<circle cx="106.4" cy="428.1" r="0.5" fill="#555"/>
<circle cx="98.8" cy="447.0" r="0.5" fill="#555"/>
<circle cx="95.5" cy="446.3" r="0.5" fill="#555"/>
<circle cx="111.0" cy="428.3" r="0.5" fill="#555"/>
<circle cx="109.1" cy="443.9" r="0.5" fill="#555"/>
<circle cx="99.9" cy="432.9" r="0.5" fill="#555"/>
<circle cx="101.3" cy="431.3" r="0.5" fill="#555"/>
<circle cx="96.3" cy="441.5" r="0.5" fill="#555"/>
<circle cx="112.5" cy="425.5" r="0.5" fill="#555"/>
<circle cx="110.7" cy="438.3" r="0.5" fill="#555"/>
<circle cx="111.7" cy="425.0" r="0.5" fill="#555"/>
<circle cx="108.6" cy="444.7" r="0.5" fill="#555"/>
<circle cx="95.2" cy="446.9" r="0.5" fill="#555"/>
<circle cx="112.9" cy="438.3" r="0.5" fill="#555"/>
<circle cx="94.9" cy="437.3" r="0.5" fill="#555"/>
<circle cx="106.2" cy="427.4" r="0.5" fill="#555"/>
<circle cx="103.9" cy="445.6" r="0.5" fill="#555"/>
<circle cx="111.6" cy="434.6" r="0.5" fill="#555"/>
<circle cx="107.4" cy="444.5" r="0.5" fill="#555"/>
<circle cx="112.0" cy="426.3" r="0.5" fill="#555"/>
<circle cx="105.2" cy="445.4" r="0.5" fill="#555"/>
<g filter="url(#bl)" transform="translate(104.20,437.20) rotate(-55)">
<ellipse cx="0.00" cy="0" rx="12.00" ry="6.60" fill="#e8e8e8" stroke="#aaa" stroke-width="0.5"/>
<ellipse cx="0.23" cy="0" rx="10.08" ry="5.54" fill="#d2d2d2" stroke="#999" stroke-width="0.5"/>
<ellipse cx="0.46" cy="0" rx="8.16" ry="4.49" fill="#b8b8b8" stroke="#888" stroke-width="0.5"/>
<ellipse cx="0.69" cy="0" rx="6.24" ry="3.43" fill="#9a9a9a" stroke="#6a6a6a" stroke-width="0.5"/>
<ellipse cx="0.92" cy="0" rx="4.32" ry="2.38" fill="#7e7e7e" stroke="#555" stroke-width="0.5"/>
<ellipse cx="1.12" cy="0" rx="2.64" ry="1.45" fill="#c8c8c8" stroke="#666" stroke-width="0.45"/>
<ellipse cx="1.30" cy="0" rx="1.20" ry="0.66" fill="#f4f4f4" stroke="#aaa" stroke-width="0.4"/>
</g>
<circle cx="108.8" cy="415.0" r="0.5" fill="#333"/>
<circle cx="108.9" cy="420.0" r="0.5" fill="#333"/>
<circle cx="111.6" cy="412.6" r="0.5" fill="#333"/>
<circle cx="111.4" cy="414.7" r="0.5" fill="#333"/>
<line x1="66.60" y1="426.10" x2="120.80" y2="426.10" stroke="#444" stroke-width="1.0" stroke-linecap="butt"/>
<text x="71.00" y="413.90" font-size="7.6" font-weight="bold" textLength="21.10" lengthAdjust="spacingAndGlyphs" fill="#000" stroke="#000" stroke-width="0.25">0.18%</text>
<rect x="131.00" y="399.50" width="54.30" height="53.60" fill="#fff" stroke="#666" stroke-width="0.8"/>
<text x="125.20" y="405.80" font-size="5.5" fill="#666" stroke="#666" stroke-width="0.55">′</text>
<text x="125.20" y="418.30" font-size="5.5" fill="#666" stroke="#666" stroke-width="0.55">′</text>
<text x="125.20" y="431.60" font-size="5.5" fill="#666" stroke="#666" stroke-width="0.55">′</text>
<text x="125.20" y="444.20" font-size="5.5" fill="#666" stroke="#666" stroke-width="0.55">′</text>
<text x="125.20" y="450.40" font-size="5.5" fill="#666" stroke="#666" stroke-width="0.55">′</text>
<text x="133.10" y="458.60" font-size="5.5" fill="#666" stroke="#666" stroke-width="0.55">′</text>
<text x="141.70" y="458.60" font-size="5.5" fill="#666" stroke="#666" stroke-width="0.55">′</text>
<text x="155.80" y="458.60" font-size="5.5" fill="#666" stroke="#666" stroke-width="0.55">′</text>
<text x="167.50" y="458.60" font-size="5.5" fill="#666" stroke="#666" stroke-width="0.55">′</text>
<text x="178.50" y="458.60" font-size="5.5" fill="#666" stroke="#666" stroke-width="0.55">′</text>
<circle cx="161.9" cy="429.1" r="0.5" fill="#555"/>
<circle cx="160.0" cy="446.3" r="0.5" fill="#555"/>
<circle cx="173.7" cy="425.7" r="0.5" fill="#555"/>
<circle cx="159.4" cy="448.6" r="0.5" fill="#555"/>
<circle cx="165.0" cy="447.8" r="0.5" fill="#555"/>
<circle cx="171.3" cy="442.8" r="0.5" fill="#555"/>
<circle cx="159.5" cy="433.9" r="0.5" fill="#555"/>
<circle cx="157.0" cy="446.3" r="0.5" fill="#555"/>
<circle cx="174.2" cy="436.8" r="0.5" fill="#555"/>
<circle cx="163.2" cy="429.9" r="0.5" fill="#555"/>
<circle cx="162.6" cy="428.8" r="0.5" fill="#555"/>
<circle cx="165.2" cy="428.0" r="0.5" fill="#555"/>
<circle cx="176.3" cy="429.5" r="0.5" fill="#555"/>
<circle cx="163.0" cy="429.4" r="0.5" fill="#555"/>
<circle cx="174.2" cy="431.0" r="0.5" fill="#555"/>
<circle cx="157.6" cy="440.1" r="0.5" fill="#555"/>
<circle cx="171.3" cy="425.2" r="0.5" fill="#555"/>
<circle cx="174.2" cy="437.4" r="0.5" fill="#555"/>
<circle cx="165.9" cy="448.0" r="0.5" fill="#555"/>
<circle cx="169.0" cy="425.6" r="0.5" fill="#555"/>
<circle cx="156.3" cy="440.0" r="0.5" fill="#555"/>
<circle cx="162.4" cy="427.9" r="0.5" fill="#555"/>
<circle cx="173.7" cy="427.7" r="0.5" fill="#555"/>
<circle cx="157.4" cy="442.0" r="0.5" fill="#555"/>
<circle cx="158.2" cy="442.1" r="0.5" fill="#555"/>
<circle cx="167.3" cy="426.2" r="0.5" fill="#555"/>
<g filter="url(#bl)" transform="translate(166.00,436.60) rotate(-55)">
<ellipse cx="0.00" cy="0" rx="12.00" ry="6.80" fill="#e8e8e8" stroke="#aaa" stroke-width="0.5"/>
<ellipse cx="0.23" cy="0" rx="10.08" ry="5.71" fill="#d2d2d2" stroke="#999" stroke-width="0.5"/>
<ellipse cx="0.46" cy="0" rx="8.16" ry="4.62" fill="#b8b8b8" stroke="#888" stroke-width="0.5"/>
<ellipse cx="0.69" cy="0" rx="6.24" ry="3.54" fill="#9a9a9a" stroke="#6a6a6a" stroke-width="0.5"/>
<ellipse cx="0.92" cy="0" rx="4.32" ry="2.45" fill="#7e7e7e" stroke="#555" stroke-width="0.5"/>
<ellipse cx="1.12" cy="0" rx="2.64" ry="1.50" fill="#c8c8c8" stroke="#666" stroke-width="0.45"/>
<ellipse cx="1.30" cy="0" rx="1.20" ry="0.68" fill="#f4f4f4" stroke="#aaa" stroke-width="0.4"/>
</g>
<circle cx="167.8" cy="425.0" r="0.5" fill="#333"/>
<circle cx="167.9" cy="424.5" r="0.5" fill="#333"/>
<circle cx="169.9" cy="422.8" r="0.5" fill="#333"/>
<circle cx="168.1" cy="427.6" r="0.5" fill="#333"/>
<circle cx="170.4" cy="421.1" r="0.5" fill="#333"/>
<circle cx="168.1" cy="423.3" r="0.5" fill="#333"/>
<circle cx="168.8" cy="425.7" r="0.5" fill="#333"/>
<circle cx="169.2" cy="419.2" r="0.5" fill="#333"/>
<line x1="131.00" y1="426.10" x2="185.30" y2="426.10" stroke="#444" stroke-width="1.0" stroke-linecap="butt"/>
<rect x="131.30" y="405.30" width="28.20" height="13.60" fill="none" stroke="#000" stroke-width="1.7"/>
<text x="135.00" y="416.20" font-size="7.6" font-weight="bold" textLength="20.50" lengthAdjust="spacingAndGlyphs" fill="#000" stroke="#000" stroke-width="0.25">0.68%</text>
<text transform="translate(39.60,367.00) rotate(-90)" x="0" y="0" font-size="13.0" textLength="19.50" lengthAdjust="spacingAndGlyphs" fill="#000" stroke="#000" stroke-width="0.55">WT</text>
<text transform="translate(38.80,450.60) rotate(-90)" x="0" y="0" font-size="13.0" textLength="43.00" lengthAdjust="spacingAndGlyphs" fill="#000" stroke="#000" stroke-width="0.55">Dectin2</text>
<text transform="translate(34.60,404.80) rotate(-90)" x="0" y="0" font-size="7.0" textLength="6.60" lengthAdjust="spacingAndGlyphs" fill="#000" stroke="#000" stroke-width="0.55">-/-</text>
<text transform="translate(52.90,411.30) rotate(-90)" x="0" y="0" font-size="12.0" textLength="38.30" lengthAdjust="spacingAndGlyphs" fill="#000" stroke="#000" stroke-width="0.55">IL-17A</text>
<line x1="49.30" y1="350.00" x2="49.30" y2="366.70" stroke="#000" stroke-width="2.0" stroke-linecap="butt"/>
<path d="M49.3,338.1 L55.9,358.9 L49.3,352.5 L43.3,358.9 Z" fill="#000"/>
<line x1="49.30" y1="422.40" x2="49.30" y2="452.80" stroke="#000" stroke-width="2.0" stroke-linecap="butt"/>
<line x1="62.50" y1="467.40" x2="110.00" y2="467.40" stroke="#000" stroke-width="2.0" stroke-linecap="butt"/>
<text x="117.40" y="470.60" font-size="9.8" font-weight="bold" textLength="19.00" lengthAdjust="spacingAndGlyphs" fill="#000">CD4</text>
<line x1="141.70" y1="466.80" x2="175.00" y2="466.80" stroke="#000" stroke-width="2.2" stroke-linecap="butt"/>
<path d="M185.00,466.80 L166.00,473.55 L171.32,466.80 L166.00,460.05 Z" fill="#000"/>
<text x="222.90" y="316.00" font-size="15.6" font-weight="bold" textLength="9.40" lengthAdjust="spacingAndGlyphs" fill="#000" stroke="#000" stroke-width="0.7">F</text>
<line x1="265.00" y1="349.09" x2="265.00" y2="440.80" stroke="#000" stroke-width="1.8" stroke-linecap="butt"/>
<line x1="261.10" y1="439.90" x2="344.10" y2="439.90" stroke="#000" stroke-width="1.8" stroke-linecap="butt"/>
<line x1="261.30" y1="349.90" x2="265.00" y2="349.90" stroke="#000" stroke-width="1.53" stroke-linecap="butt"/>
<text x="258.00" y="353.05" font-size="8.8" text-anchor="end" textLength="5.00" lengthAdjust="spacingAndGlyphs" fill="#000" stroke="#000" stroke-width="0.55">8</text>
<line x1="261.30" y1="373.10" x2="265.00" y2="373.10" stroke="#000" stroke-width="1.53" stroke-linecap="butt"/>
<text x="258.00" y="376.25" font-size="8.8" text-anchor="end" textLength="5.00" lengthAdjust="spacingAndGlyphs" fill="#000" stroke="#000" stroke-width="0.55">6</text>
<line x1="261.30" y1="395.70" x2="265.00" y2="395.70" stroke="#000" stroke-width="1.53" stroke-linecap="butt"/>
<text x="258.00" y="398.85" font-size="8.8" text-anchor="end" textLength="5.00" lengthAdjust="spacingAndGlyphs" fill="#000" stroke="#000" stroke-width="0.55">4</text>
<line x1="261.30" y1="419.00" x2="265.00" y2="419.00" stroke="#000" stroke-width="1.53" stroke-linecap="butt"/>
<text x="258.00" y="422.15" font-size="8.8" text-anchor="end" textLength="5.00" lengthAdjust="spacingAndGlyphs" fill="#000" stroke="#000" stroke-width="0.55">2</text>
<line x1="261.30" y1="439.90" x2="265.00" y2="439.90" stroke="#000" stroke-width="1.53" stroke-linecap="butt"/>
<text x="258.00" y="443.05" font-size="8.8" text-anchor="end" textLength="5.00" lengthAdjust="spacingAndGlyphs" fill="#000" stroke="#000" stroke-width="0.55">0</text>
<line x1="275.55" y1="433.60" x2="275.55" y2="435.60" stroke="#000" stroke-width="1.5" stroke-linecap="butt"/>
<line x1="271.60" y1="433.60" x2="279.50" y2="433.60" stroke="#000" stroke-width="1.7" stroke-linecap="butt"/>
<rect x="267.85" y="436.35" width="15.40" height="3.55" fill="#c4c4c4" stroke="#000" stroke-width="1.5"/>
<line x1="294.50" y1="436.00" x2="294.50" y2="436.70" stroke="#000" stroke-width="1.5" stroke-linecap="butt"/>
<line x1="291.00" y1="436.00" x2="298.00" y2="436.00" stroke="#000" stroke-width="1.7" stroke-linecap="butt"/>
<rect x="287.45" y="437.45" width="14.00" height="2.45" fill="#555" stroke="#000" stroke-width="1.5"/>
<line x1="312.75" y1="361.80" x2="312.75" y2="374.90" stroke="#000" stroke-width="1.5" stroke-linecap="butt"/>
<line x1="308.30" y1="361.80" x2="317.20" y2="361.80" stroke="#000" stroke-width="1.7" stroke-linecap="butt"/>
<rect x="305.25" y="375.65" width="15.50" height="64.25" fill="#8c8c8c" stroke="#000" stroke-width="1.5"/>
<line x1="312.75" y1="374.90" x2="312.75" y2="388.30" stroke="#000" stroke-width="1.5" stroke-linecap="butt"/>
<line x1="308.30" y1="388.30" x2="317.20" y2="388.30" stroke="#000" stroke-width="1.7" stroke-linecap="butt"/>
<line x1="331.40" y1="430.80" x2="331.40" y2="433.60" stroke="#000" stroke-width="1.5" stroke-linecap="butt"/>
<line x1="327.40" y1="430.80" x2="335.40" y2="430.80" stroke="#000" stroke-width="1.7" stroke-linecap="butt"/>
<rect x="324.15" y="434.35" width="14.90" height="5.55" fill="#c4c4c4" stroke="#000" stroke-width="1.5"/>
<line x1="331.40" y1="433.60" x2="331.40" y2="436.70" stroke="#000" stroke-width="1.5" stroke-linecap="butt"/>
<line x1="327.40" y1="436.70" x2="335.40" y2="436.70" stroke="#000" stroke-width="1.7" stroke-linecap="butt"/>
<line x1="313.10" y1="347.20" x2="313.10" y2="353.20" stroke="#000" stroke-width="1.3" stroke-linecap="butt"/>
<line x1="315.70" y1="348.70" x2="310.50" y2="351.70" stroke="#000" stroke-width="1.3" stroke-linecap="butt"/>
<line x1="315.70" y1="351.70" x2="310.50" y2="348.70" stroke="#000" stroke-width="1.3" stroke-linecap="butt"/>
<text transform="translate(244.00,446.50) rotate(-90)" x="0" y="0" font-size="9.6" textLength="105.90" lengthAdjust="spacingAndGlyphs" fill="#000" stroke="#000" stroke-width="0.55">% IL-17A⁺/ CD4⁺ T-cells</text>
<text x="248.80" y="457.80" font-size="9.4" textLength="13.00" lengthAdjust="spacingAndGlyphs" fill="#000" stroke="#000" stroke-width="0.55">Mn</text>
<text x="228.70" y="468.40" font-size="9.4" textLength="37.40" lengthAdjust="spacingAndGlyphs" fill="#000" stroke="#000" stroke-width="0.55">Dectin-2</text>
<text x="276.25" y="457.80" font-size="8.6" font-weight="bold" text-anchor="middle" textLength="8.70" lengthAdjust="spacingAndGlyphs" fill="#000">(-)</text>
<text x="276.25" y="468.40" font-size="9.4" text-anchor="middle" textLength="13.00" lengthAdjust="spacingAndGlyphs" fill="#000" stroke="#000" stroke-width="0.55">+/+</text>
<text x="295.00" y="457.80" font-size="8.6" font-weight="bold" text-anchor="middle" textLength="8.60" lengthAdjust="spacingAndGlyphs" fill="#000">(-)</text>
<text x="295.00" y="468.40" font-size="9.4" text-anchor="middle" textLength="8.70" lengthAdjust="spacingAndGlyphs" fill="#000" stroke="#000" stroke-width="0.55">-/-</text>
<text x="313.00" y="457.80" font-size="8.6" font-weight="bold" text-anchor="middle" textLength="13.00" lengthAdjust="spacingAndGlyphs" fill="#000">(+)</text>
<text x="313.00" y="468.40" font-size="9.4" text-anchor="middle" textLength="13.00" lengthAdjust="spacingAndGlyphs" fill="#000" stroke="#000" stroke-width="0.55">+/+</text>
<text x="331.05" y="457.80" font-size="8.6" font-weight="bold" text-anchor="middle" textLength="11.50" lengthAdjust="spacingAndGlyphs" fill="#000">(+)</text>
<text x="331.05" y="468.40" font-size="9.4" text-anchor="middle" textLength="8.70" lengthAdjust="spacingAndGlyphs" fill="#000" stroke="#000" stroke-width="0.55">-/-</text>
<text x="370.00" y="316.00" font-size="15.6" font-weight="bold" textLength="11.20" lengthAdjust="spacingAndGlyphs" fill="#000" stroke="#000" stroke-width="0.7">G</text>
<line x1="407.80" y1="345.59" x2="407.80" y2="441.20" stroke="#000" stroke-width="1.8" stroke-linecap="butt"/>
<line x1="403.90" y1="440.30" x2="487.50" y2="440.30" stroke="#000" stroke-width="1.8" stroke-linecap="butt"/>
<line x1="403.90" y1="346.40" x2="407.80" y2="346.40" stroke="#000" stroke-width="1.53" stroke-linecap="butt"/>
<text x="402.20" y="349.20" font-size="7.82" text-anchor="end" textLength="15.30" lengthAdjust="spacingAndGlyphs" fill="#000" stroke="#000" stroke-width="0.55">600</text>
<line x1="403.90" y1="361.50" x2="407.80" y2="361.50" stroke="#000" stroke-width="1.53" stroke-linecap="butt"/>
<text x="402.20" y="364.30" font-size="7.82" text-anchor="end" textLength="15.30" lengthAdjust="spacingAndGlyphs" fill="#000" stroke="#000" stroke-width="0.55">500</text>
<line x1="403.90" y1="377.00" x2="407.80" y2="377.00" stroke="#000" stroke-width="1.53" stroke-linecap="butt"/>
<text x="402.20" y="379.80" font-size="7.82" text-anchor="end" textLength="15.30" lengthAdjust="spacingAndGlyphs" fill="#000" stroke="#000" stroke-width="0.55">400</text>
<line x1="403.90" y1="392.90" x2="407.80" y2="392.90" stroke="#000" stroke-width="1.53" stroke-linecap="butt"/>
<text x="402.20" y="395.70" font-size="7.82" text-anchor="end" textLength="15.30" lengthAdjust="spacingAndGlyphs" fill="#000" stroke="#000" stroke-width="0.55">300</text>
<line x1="403.90" y1="409.20" x2="407.80" y2="409.20" stroke="#000" stroke-width="1.53" stroke-linecap="butt"/>
<text x="402.20" y="412.00" font-size="7.82" text-anchor="end" textLength="15.30" lengthAdjust="spacingAndGlyphs" fill="#000" stroke="#000" stroke-width="0.55">200</text>
<line x1="403.90" y1="425.50" x2="407.80" y2="425.50" stroke="#000" stroke-width="1.53" stroke-linecap="butt"/>
<text x="402.20" y="428.30" font-size="7.82" text-anchor="end" textLength="15.30" lengthAdjust="spacingAndGlyphs" fill="#000" stroke="#000" stroke-width="0.55">100</text>
<line x1="403.90" y1="440.30" x2="407.80" y2="440.30" stroke="#000" stroke-width="1.53" stroke-linecap="butt"/>
<text x="402.20" y="443.10" font-size="7.82" text-anchor="end" textLength="5.10" lengthAdjust="spacingAndGlyphs" fill="#000" stroke="#000" stroke-width="0.55">0</text>
<line x1="421.25" y1="436.30" x2="421.25" y2="436.90" stroke="#000" stroke-width="1.5" stroke-linecap="butt"/>
<line x1="417.50" y1="436.30" x2="425.00" y2="436.30" stroke="#000" stroke-width="1.7" stroke-linecap="butt"/>
<rect x="413.95" y="437.65" width="14.80" height="2.65" fill="#000" stroke="#000" stroke-width="1.5"/>
<line x1="440.00" y1="436.60" x2="440.00" y2="437.20" stroke="#000" stroke-width="1.5" stroke-linecap="butt"/>
<line x1="436.00" y1="436.60" x2="444.00" y2="436.60" stroke="#000" stroke-width="1.7" stroke-linecap="butt"/>
<rect x="432.75" y="437.95" width="14.80" height="2.35" fill="#000" stroke="#000" stroke-width="1.5"/>
<line x1="458.85" y1="361.60" x2="458.85" y2="372.00" stroke="#000" stroke-width="1.5" stroke-linecap="butt"/>
<line x1="454.20" y1="361.60" x2="463.50" y2="361.60" stroke="#000" stroke-width="1.7" stroke-linecap="butt"/>
<rect x="450.95" y="372.75" width="15.60" height="67.55" fill="#8c8c8c" stroke="#000" stroke-width="1.5"/>
<line x1="458.85" y1="372.00" x2="458.85" y2="383.20" stroke="#000" stroke-width="1.5" stroke-linecap="butt"/>
<line x1="454.20" y1="383.20" x2="463.50" y2="383.20" stroke="#000" stroke-width="1.7" stroke-linecap="butt"/>
<line x1="477.50" y1="436.60" x2="477.50" y2="437.20" stroke="#000" stroke-width="1.5" stroke-linecap="butt"/>
<line x1="473.00" y1="436.60" x2="482.00" y2="436.60" stroke="#000" stroke-width="1.7" stroke-linecap="butt"/>
<rect x="469.45" y="437.95" width="16.50" height="2.35" fill="#000" stroke="#000" stroke-width="1.5"/>
<line x1="459.60" y1="352.80" x2="459.60" y2="358.80" stroke="#000" stroke-width="1.3" stroke-linecap="butt"/>
<line x1="462.20" y1="354.30" x2="457.00" y2="357.30" stroke="#000" stroke-width="1.3" stroke-linecap="butt"/>
<line x1="462.20" y1="357.30" x2="457.00" y2="354.30" stroke="#000" stroke-width="1.3" stroke-linecap="butt"/>
<text transform="translate(381.60,441.70) rotate(-90)" x="0" y="0" font-size="9.8" textLength="111.70" lengthAdjust="spacingAndGlyphs" fill="#000" stroke="#000" stroke-width="0.55"># of IL-17A⁺ CD4⁺ T-cells</text>
<text x="388.70" y="457.80" font-size="9.4" textLength="14.50" lengthAdjust="spacingAndGlyphs" fill="#000" stroke="#000" stroke-width="0.55">Mn</text>
<text x="369.00" y="468.40" font-size="9.4" textLength="35.60" lengthAdjust="spacingAndGlyphs" fill="#000" stroke="#000" stroke-width="0.55">Dectin-2</text>
<text x="421.15" y="457.80" font-size="8.6" font-weight="bold" text-anchor="middle" textLength="10.10" lengthAdjust="spacingAndGlyphs" fill="#000">(-)</text>
<text x="421.15" y="468.40" font-size="9.4" text-anchor="middle" textLength="13.00" lengthAdjust="spacingAndGlyphs" fill="#000" stroke="#000" stroke-width="0.55">+/+</text>
<text x="439.95" y="457.80" font-size="8.6" font-weight="bold" text-anchor="middle" textLength="10.10" lengthAdjust="spacingAndGlyphs" fill="#000">(-)</text>
<text x="439.95" y="468.40" font-size="9.4" text-anchor="middle" textLength="8.70" lengthAdjust="spacingAndGlyphs" fill="#000" stroke="#000" stroke-width="0.55">-/-</text>
<text x="460.10" y="457.80" font-size="8.6" font-weight="bold" text-anchor="middle" textLength="13.00" lengthAdjust="spacingAndGlyphs" fill="#000">(+)</text>
<text x="460.10" y="468.40" font-size="9.4" text-anchor="middle" textLength="13.00" lengthAdjust="spacingAndGlyphs" fill="#000" stroke="#000" stroke-width="0.55">+/+</text>
<text x="478.15" y="457.80" font-size="8.6" font-weight="bold" text-anchor="middle" textLength="11.50" lengthAdjust="spacingAndGlyphs" fill="#000">(+)</text>
<text x="478.15" y="468.40" font-size="9.4" text-anchor="middle" textLength="8.70" lengthAdjust="spacingAndGlyphs" fill="#000" stroke="#000" stroke-width="0.55">-/-</text>
</svg>
</body></html>
